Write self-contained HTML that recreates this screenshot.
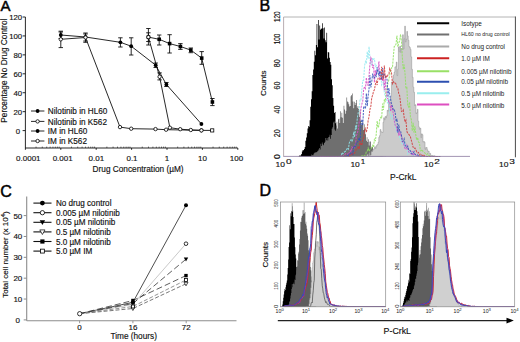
<!DOCTYPE html>
<html><head><meta charset="utf-8"><style>
html,body{margin:0;padding:0;background:#fff;}
svg{display:block;}
text{font-family:'Liberation Sans', sans-serif;stroke:#111;stroke-width:0.15px;paint-order:stroke;}
text.nb{stroke:none;}
</style></head><body>
<svg width="520" height="342" viewBox="0 0 520 342" font-family="'Liberation Sans', sans-serif">
<rect width="520" height="342" fill="#fff"/>
<text x="0.50" y="10.80" font-size="15" text-anchor="start" fill="#000" style="stroke-width:0.5px">A</text>
<line x1="25.40" y1="17.00" x2="25.40" y2="148.00" stroke="#111" stroke-width="0.9" />
<line x1="22.60" y1="130.60" x2="25.40" y2="130.60" stroke="#111" stroke-width="0.9" />
<text x="20.00" y="133.50" font-size="7.8" text-anchor="end" fill="#111" >0</text>
<line x1="22.60" y1="111.67" x2="25.40" y2="111.67" stroke="#111" stroke-width="0.9" />
<text x="22.20" y="114.57" font-size="7.8" text-anchor="end" fill="#111" >20</text>
<line x1="22.60" y1="92.73" x2="25.40" y2="92.73" stroke="#111" stroke-width="0.9" />
<text x="22.20" y="95.63" font-size="7.8" text-anchor="end" fill="#111" >40</text>
<line x1="22.60" y1="73.80" x2="25.40" y2="73.80" stroke="#111" stroke-width="0.9" />
<text x="22.20" y="76.70" font-size="7.8" text-anchor="end" fill="#111" >60</text>
<line x1="22.60" y1="54.86" x2="25.40" y2="54.86" stroke="#111" stroke-width="0.9" />
<text x="22.20" y="57.76" font-size="7.8" text-anchor="end" fill="#111" >80</text>
<line x1="22.60" y1="35.93" x2="25.40" y2="35.93" stroke="#111" stroke-width="0.9" />
<text x="22.20" y="38.83" font-size="7.8" text-anchor="end" fill="#111" >100</text>
<line x1="22.60" y1="17.00" x2="25.40" y2="17.00" stroke="#111" stroke-width="0.9" />
<text x="22.20" y="19.90" font-size="7.8" text-anchor="end" fill="#111" >120</text>
<line x1="25.40" y1="148.00" x2="237.80" y2="148.00" stroke="#111" stroke-width="0.9" />
<line x1="25.40" y1="148.00" x2="25.40" y2="149.80" stroke="#111" stroke-width="0.9" />
<line x1="36.06" y1="148.00" x2="36.06" y2="146.60" stroke="#111" stroke-width="0.6" />
<line x1="42.29" y1="148.00" x2="42.29" y2="146.60" stroke="#111" stroke-width="0.6" />
<line x1="46.71" y1="148.00" x2="46.71" y2="146.60" stroke="#111" stroke-width="0.6" />
<line x1="50.14" y1="148.00" x2="50.14" y2="146.60" stroke="#111" stroke-width="0.6" />
<line x1="52.95" y1="148.00" x2="52.95" y2="146.60" stroke="#111" stroke-width="0.6" />
<line x1="55.32" y1="148.00" x2="55.32" y2="146.60" stroke="#111" stroke-width="0.6" />
<line x1="57.37" y1="148.00" x2="57.37" y2="146.60" stroke="#111" stroke-width="0.6" />
<line x1="59.18" y1="148.00" x2="59.18" y2="146.60" stroke="#111" stroke-width="0.6" />
<line x1="60.80" y1="148.00" x2="60.80" y2="149.80" stroke="#111" stroke-width="0.9" />
<line x1="71.46" y1="148.00" x2="71.46" y2="146.60" stroke="#111" stroke-width="0.6" />
<line x1="77.69" y1="148.00" x2="77.69" y2="146.60" stroke="#111" stroke-width="0.6" />
<line x1="82.11" y1="148.00" x2="82.11" y2="146.60" stroke="#111" stroke-width="0.6" />
<line x1="85.54" y1="148.00" x2="85.54" y2="146.60" stroke="#111" stroke-width="0.6" />
<line x1="88.35" y1="148.00" x2="88.35" y2="146.60" stroke="#111" stroke-width="0.6" />
<line x1="90.72" y1="148.00" x2="90.72" y2="146.60" stroke="#111" stroke-width="0.6" />
<line x1="92.77" y1="148.00" x2="92.77" y2="146.60" stroke="#111" stroke-width="0.6" />
<line x1="94.58" y1="148.00" x2="94.58" y2="146.60" stroke="#111" stroke-width="0.6" />
<line x1="96.20" y1="148.00" x2="96.20" y2="149.80" stroke="#111" stroke-width="0.9" />
<line x1="106.86" y1="148.00" x2="106.86" y2="146.60" stroke="#111" stroke-width="0.6" />
<line x1="113.09" y1="148.00" x2="113.09" y2="146.60" stroke="#111" stroke-width="0.6" />
<line x1="117.51" y1="148.00" x2="117.51" y2="146.60" stroke="#111" stroke-width="0.6" />
<line x1="120.94" y1="148.00" x2="120.94" y2="146.60" stroke="#111" stroke-width="0.6" />
<line x1="123.75" y1="148.00" x2="123.75" y2="146.60" stroke="#111" stroke-width="0.6" />
<line x1="126.12" y1="148.00" x2="126.12" y2="146.60" stroke="#111" stroke-width="0.6" />
<line x1="128.17" y1="148.00" x2="128.17" y2="146.60" stroke="#111" stroke-width="0.6" />
<line x1="129.98" y1="148.00" x2="129.98" y2="146.60" stroke="#111" stroke-width="0.6" />
<line x1="131.60" y1="148.00" x2="131.60" y2="149.80" stroke="#111" stroke-width="0.9" />
<line x1="142.26" y1="148.00" x2="142.26" y2="146.60" stroke="#111" stroke-width="0.6" />
<line x1="148.49" y1="148.00" x2="148.49" y2="146.60" stroke="#111" stroke-width="0.6" />
<line x1="152.91" y1="148.00" x2="152.91" y2="146.60" stroke="#111" stroke-width="0.6" />
<line x1="156.34" y1="148.00" x2="156.34" y2="146.60" stroke="#111" stroke-width="0.6" />
<line x1="159.15" y1="148.00" x2="159.15" y2="146.60" stroke="#111" stroke-width="0.6" />
<line x1="161.52" y1="148.00" x2="161.52" y2="146.60" stroke="#111" stroke-width="0.6" />
<line x1="163.57" y1="148.00" x2="163.57" y2="146.60" stroke="#111" stroke-width="0.6" />
<line x1="165.38" y1="148.00" x2="165.38" y2="146.60" stroke="#111" stroke-width="0.6" />
<line x1="167.00" y1="148.00" x2="167.00" y2="149.80" stroke="#111" stroke-width="0.9" />
<line x1="177.66" y1="148.00" x2="177.66" y2="146.60" stroke="#111" stroke-width="0.6" />
<line x1="183.89" y1="148.00" x2="183.89" y2="146.60" stroke="#111" stroke-width="0.6" />
<line x1="188.31" y1="148.00" x2="188.31" y2="146.60" stroke="#111" stroke-width="0.6" />
<line x1="191.74" y1="148.00" x2="191.74" y2="146.60" stroke="#111" stroke-width="0.6" />
<line x1="194.55" y1="148.00" x2="194.55" y2="146.60" stroke="#111" stroke-width="0.6" />
<line x1="196.92" y1="148.00" x2="196.92" y2="146.60" stroke="#111" stroke-width="0.6" />
<line x1="198.97" y1="148.00" x2="198.97" y2="146.60" stroke="#111" stroke-width="0.6" />
<line x1="200.78" y1="148.00" x2="200.78" y2="146.60" stroke="#111" stroke-width="0.6" />
<line x1="202.40" y1="148.00" x2="202.40" y2="149.80" stroke="#111" stroke-width="0.9" />
<line x1="213.06" y1="148.00" x2="213.06" y2="146.60" stroke="#111" stroke-width="0.6" />
<line x1="219.29" y1="148.00" x2="219.29" y2="146.60" stroke="#111" stroke-width="0.6" />
<line x1="223.71" y1="148.00" x2="223.71" y2="146.60" stroke="#111" stroke-width="0.6" />
<line x1="227.14" y1="148.00" x2="227.14" y2="146.60" stroke="#111" stroke-width="0.6" />
<line x1="229.95" y1="148.00" x2="229.95" y2="146.60" stroke="#111" stroke-width="0.6" />
<line x1="232.32" y1="148.00" x2="232.32" y2="146.60" stroke="#111" stroke-width="0.6" />
<line x1="234.37" y1="148.00" x2="234.37" y2="146.60" stroke="#111" stroke-width="0.6" />
<line x1="236.18" y1="148.00" x2="236.18" y2="146.60" stroke="#111" stroke-width="0.6" />
<line x1="237.80" y1="148.00" x2="237.80" y2="149.80" stroke="#111" stroke-width="0.9" />
<text x="28.30" y="160.60" font-size="8" text-anchor="middle" fill="#111" >0.0001</text>
<text x="62.70" y="160.60" font-size="8" text-anchor="middle" fill="#111" >0.001</text>
<text x="96.40" y="160.60" font-size="8" text-anchor="middle" fill="#111" >0.01</text>
<text x="132.00" y="160.60" font-size="8" text-anchor="middle" fill="#111" >0.1</text>
<text x="167.00" y="160.60" font-size="8" text-anchor="middle" fill="#111" >1</text>
<text x="202.50" y="160.60" font-size="8" text-anchor="middle" fill="#111" >10</text>
<text x="236.50" y="160.60" font-size="8" text-anchor="middle" fill="#111" >100</text>
<text x="138.10" y="171.80" font-size="8.25" text-anchor="middle" fill="#111" >Drug Concentration (µM)</text>
<text transform="translate(6.70,70.60) rotate(-90)" font-size="8.25" text-anchor="middle" fill="#111" >Percentage No Drug Control</text>
<polyline points="60.80,35.00 85.50,37.00 120.40,42.30 131.20,46.20 155.70,65.20 166.40,84.50 201.40,124.00" fill="none" stroke="#111" stroke-width="0.9" />
<polyline points="60.80,39.30 85.50,37.50 120.00,127.10 131.20,128.70 155.50,129.10 166.10,129.70 201.40,130.30" fill="none" stroke="#111" stroke-width="0.9" />
<polyline points="148.40,37.10 159.20,39.30 169.60,43.60 180.40,46.50 190.80,50.10 201.70,58.10 212.40,102.00" fill="none" stroke="#111" stroke-width="0.9" />
<polyline points="148.40,37.10 159.60,76.80 169.90,127.70 180.20,129.20 190.80,130.00 201.40,130.40 212.20,130.40" fill="none" stroke="#111" stroke-width="0.9" />
<line x1="60.80" y1="32.00" x2="60.80" y2="38.50" stroke="#111" stroke-width="0.9" />
<line x1="58.60" y1="32.00" x2="63.00" y2="32.00" stroke="#111" stroke-width="0.9" />
<line x1="58.60" y1="38.50" x2="63.00" y2="38.50" stroke="#111" stroke-width="0.9" />
<line x1="85.50" y1="33.00" x2="85.50" y2="41.00" stroke="#111" stroke-width="0.9" />
<line x1="83.30" y1="33.00" x2="87.70" y2="33.00" stroke="#111" stroke-width="0.9" />
<line x1="83.30" y1="41.00" x2="87.70" y2="41.00" stroke="#111" stroke-width="0.9" />
<line x1="120.40" y1="37.80" x2="120.40" y2="47.00" stroke="#111" stroke-width="0.9" />
<line x1="118.20" y1="37.80" x2="122.60" y2="37.80" stroke="#111" stroke-width="0.9" />
<line x1="118.20" y1="47.00" x2="122.60" y2="47.00" stroke="#111" stroke-width="0.9" />
<line x1="131.20" y1="37.80" x2="131.20" y2="55.00" stroke="#111" stroke-width="0.9" />
<line x1="129.00" y1="37.80" x2="133.40" y2="37.80" stroke="#111" stroke-width="0.9" />
<line x1="129.00" y1="55.00" x2="133.40" y2="55.00" stroke="#111" stroke-width="0.9" />
<line x1="155.70" y1="63.00" x2="155.70" y2="67.50" stroke="#111" stroke-width="0.9" />
<line x1="153.50" y1="63.00" x2="157.90" y2="63.00" stroke="#111" stroke-width="0.9" />
<line x1="153.50" y1="67.50" x2="157.90" y2="67.50" stroke="#111" stroke-width="0.9" />
<line x1="166.40" y1="82.50" x2="166.40" y2="86.50" stroke="#111" stroke-width="0.9" />
<line x1="164.20" y1="82.50" x2="168.60" y2="82.50" stroke="#111" stroke-width="0.9" />
<line x1="164.20" y1="86.50" x2="168.60" y2="86.50" stroke="#111" stroke-width="0.9" />
<line x1="60.80" y1="31.20" x2="60.80" y2="47.60" stroke="#111" stroke-width="0.9" />
<line x1="58.60" y1="31.20" x2="63.00" y2="31.20" stroke="#111" stroke-width="0.9" />
<line x1="58.60" y1="47.60" x2="63.00" y2="47.60" stroke="#111" stroke-width="0.9" />
<line x1="85.50" y1="34.00" x2="85.50" y2="42.30" stroke="#111" stroke-width="0.9" />
<line x1="83.30" y1="34.00" x2="87.70" y2="34.00" stroke="#111" stroke-width="0.9" />
<line x1="83.30" y1="42.30" x2="87.70" y2="42.30" stroke="#111" stroke-width="0.9" />
<line x1="148.40" y1="28.50" x2="148.40" y2="45.00" stroke="#111" stroke-width="0.9" />
<line x1="146.20" y1="28.50" x2="150.60" y2="28.50" stroke="#111" stroke-width="0.9" />
<line x1="146.20" y1="45.00" x2="150.60" y2="45.00" stroke="#111" stroke-width="0.9" />
<line x1="159.20" y1="35.00" x2="159.20" y2="45.00" stroke="#111" stroke-width="0.9" />
<line x1="157.00" y1="35.00" x2="161.40" y2="35.00" stroke="#111" stroke-width="0.9" />
<line x1="157.00" y1="45.00" x2="161.40" y2="45.00" stroke="#111" stroke-width="0.9" />
<line x1="169.60" y1="34.70" x2="169.60" y2="53.00" stroke="#111" stroke-width="0.9" />
<line x1="167.40" y1="34.70" x2="171.80" y2="34.70" stroke="#111" stroke-width="0.9" />
<line x1="167.40" y1="53.00" x2="171.80" y2="53.00" stroke="#111" stroke-width="0.9" />
<line x1="180.40" y1="43.60" x2="180.40" y2="49.40" stroke="#111" stroke-width="0.9" />
<line x1="178.20" y1="43.60" x2="182.60" y2="43.60" stroke="#111" stroke-width="0.9" />
<line x1="178.20" y1="49.40" x2="182.60" y2="49.40" stroke="#111" stroke-width="0.9" />
<line x1="190.80" y1="48.00" x2="190.80" y2="52.70" stroke="#111" stroke-width="0.9" />
<line x1="188.60" y1="48.00" x2="193.00" y2="48.00" stroke="#111" stroke-width="0.9" />
<line x1="188.60" y1="52.70" x2="193.00" y2="52.70" stroke="#111" stroke-width="0.9" />
<line x1="201.70" y1="51.60" x2="201.70" y2="64.30" stroke="#111" stroke-width="0.9" />
<line x1="199.50" y1="51.60" x2="203.90" y2="51.60" stroke="#111" stroke-width="0.9" />
<line x1="199.50" y1="64.30" x2="203.90" y2="64.30" stroke="#111" stroke-width="0.9" />
<line x1="212.40" y1="98.50" x2="212.40" y2="105.60" stroke="#111" stroke-width="0.9" />
<line x1="210.20" y1="98.50" x2="214.60" y2="98.50" stroke="#111" stroke-width="0.9" />
<line x1="210.20" y1="105.60" x2="214.60" y2="105.60" stroke="#111" stroke-width="0.9" />
<line x1="148.40" y1="32.80" x2="148.40" y2="41.50" stroke="#111" stroke-width="0.9" />
<line x1="146.20" y1="32.80" x2="150.60" y2="32.80" stroke="#111" stroke-width="0.9" />
<line x1="146.20" y1="41.50" x2="150.60" y2="41.50" stroke="#111" stroke-width="0.9" />
<line x1="159.60" y1="72.90" x2="159.60" y2="79.90" stroke="#111" stroke-width="0.9" />
<line x1="157.40" y1="72.90" x2="161.80" y2="72.90" stroke="#111" stroke-width="0.9" />
<line x1="157.40" y1="79.90" x2="161.80" y2="79.90" stroke="#111" stroke-width="0.9" />
<rect x="146.60" y="35.30" width="3.6" height="3.6" fill="#000"/>
<rect x="157.40" y="37.50" width="3.6" height="3.6" fill="#000"/>
<rect x="167.80" y="41.80" width="3.6" height="3.6" fill="#000"/>
<rect x="178.60" y="44.70" width="3.6" height="3.6" fill="#000"/>
<rect x="189.00" y="48.30" width="3.6" height="3.6" fill="#000"/>
<rect x="199.90" y="56.30" width="3.6" height="3.6" fill="#000"/>
<rect x="210.60" y="100.20" width="3.6" height="3.6" fill="#000"/>
<circle cx="60.80" cy="35.00" r="1.9" fill="#000"/>
<circle cx="85.50" cy="37.00" r="1.9" fill="#000"/>
<circle cx="120.40" cy="42.30" r="1.9" fill="#000"/>
<circle cx="131.20" cy="46.20" r="1.9" fill="#000"/>
<circle cx="155.70" cy="65.20" r="1.9" fill="#000"/>
<circle cx="166.40" cy="84.50" r="1.9" fill="#000"/>
<circle cx="201.40" cy="124.00" r="1.9" fill="#000"/>
<circle cx="60.80" cy="39.30" r="1.7" fill="#fff" stroke="#000" stroke-width="0.8"/>
<circle cx="85.50" cy="37.50" r="1.7" fill="#fff" stroke="#000" stroke-width="0.8"/>
<circle cx="120.00" cy="127.10" r="1.7" fill="#fff" stroke="#000" stroke-width="0.8"/>
<circle cx="131.20" cy="128.70" r="1.7" fill="#fff" stroke="#000" stroke-width="0.8"/>
<circle cx="155.50" cy="129.10" r="1.7" fill="#fff" stroke="#000" stroke-width="0.8"/>
<circle cx="166.10" cy="129.70" r="1.7" fill="#fff" stroke="#000" stroke-width="0.8"/>
<circle cx="201.40" cy="130.30" r="1.7" fill="#fff" stroke="#000" stroke-width="0.8"/>
<circle cx="148.40" cy="37.10" r="1.7" fill="#fff" stroke="#000" stroke-width="0.8"/>
<circle cx="159.60" cy="76.80" r="1.7" fill="#fff" stroke="#000" stroke-width="0.8"/>
<circle cx="169.90" cy="127.70" r="1.7" fill="#fff" stroke="#000" stroke-width="0.8"/>
<circle cx="180.20" cy="129.20" r="1.7" fill="#fff" stroke="#000" stroke-width="0.8"/>
<circle cx="190.80" cy="130.00" r="1.7" fill="#fff" stroke="#000" stroke-width="0.8"/>
<circle cx="201.40" cy="130.40" r="1.7" fill="#fff" stroke="#000" stroke-width="0.8"/>
<rect x="210.60" y="128.80" width="3.2" height="3.2" fill="#fff" stroke="#000" stroke-width="0.8"/>
<line x1="31.00" y1="111.00" x2="44.40" y2="111.00" stroke="#111" stroke-width="0.9" />
<circle cx="37.60" cy="111.00" r="1.9" fill="#000"/>
<text x="47.80" y="114.20" font-size="8.2" text-anchor="start" fill="#111" >Nilotinib in HL60</text>
<line x1="31.00" y1="121.40" x2="44.40" y2="121.40" stroke="#111" stroke-width="0.9" />
<circle cx="37.60" cy="121.40" r="1.7" fill="#fff" stroke="#000" stroke-width="0.8"/>
<text x="47.80" y="124.60" font-size="8.2" text-anchor="start" fill="#111" >Nilotinib in K562</text>
<line x1="31.00" y1="131.00" x2="44.40" y2="131.00" stroke="#111" stroke-width="0.9" />
<circle cx="37.60" cy="131.00" r="1.9" fill="#000"/>
<text x="47.80" y="134.20" font-size="8.2" text-anchor="start" fill="#111" >IM in HL60</text>
<line x1="31.00" y1="141.00" x2="44.40" y2="141.00" stroke="#111" stroke-width="0.9" />
<circle cx="37.60" cy="141.00" r="1.7" fill="#fff" stroke="#000" stroke-width="0.8"/>
<text x="47.80" y="144.20" font-size="8.2" text-anchor="start" fill="#111" >IM in K562</text>
<text x="0.30" y="196.90" font-size="16" text-anchor="start" fill="#000" style="stroke-width:0.5px">C</text>
<line x1="26.70" y1="196.60" x2="26.70" y2="320.70" stroke="#8c8c8c" stroke-width="1.1" />
<line x1="23.70" y1="319.90" x2="26.70" y2="319.90" stroke="#8c8c8c" stroke-width="1.0" />
<text x="19.90" y="322.80" font-size="8" text-anchor="end" fill="#111" >0</text>
<line x1="23.70" y1="299.04" x2="26.70" y2="299.04" stroke="#8c8c8c" stroke-width="1.0" />
<text x="22.30" y="301.94" font-size="8" text-anchor="end" fill="#111" >10</text>
<line x1="23.70" y1="278.18" x2="26.70" y2="278.18" stroke="#8c8c8c" stroke-width="1.0" />
<text x="22.30" y="281.08" font-size="8" text-anchor="end" fill="#111" >20</text>
<line x1="23.70" y1="257.32" x2="26.70" y2="257.32" stroke="#8c8c8c" stroke-width="1.0" />
<text x="22.30" y="260.22" font-size="8" text-anchor="end" fill="#111" >30</text>
<line x1="23.70" y1="236.46" x2="26.70" y2="236.46" stroke="#8c8c8c" stroke-width="1.0" />
<text x="22.30" y="239.36" font-size="8" text-anchor="end" fill="#111" >40</text>
<line x1="23.70" y1="215.60" x2="26.70" y2="215.60" stroke="#8c8c8c" stroke-width="1.0" />
<text x="22.30" y="218.50" font-size="8" text-anchor="end" fill="#111" >50</text>
<line x1="26.70" y1="320.70" x2="236.50" y2="320.70" stroke="#8c8c8c" stroke-width="1.1" />
<line x1="79.60" y1="320.70" x2="79.60" y2="323.20" stroke="#8c8c8c" stroke-width="0.9" />
<text x="79.60" y="330.20" font-size="8" text-anchor="middle" fill="#111" >0</text>
<line x1="132.90" y1="320.70" x2="132.90" y2="323.20" stroke="#8c8c8c" stroke-width="0.9" />
<text x="132.90" y="330.20" font-size="8" text-anchor="middle" fill="#111" >16</text>
<line x1="186.20" y1="320.70" x2="186.20" y2="323.20" stroke="#8c8c8c" stroke-width="0.9" />
<text x="186.20" y="330.20" font-size="8" text-anchor="middle" fill="#111" >72</text>
<text x="133.70" y="338.80" font-size="8.25" text-anchor="middle" fill="#111" >Time (hours)</text>
<text transform="translate(7.6,297.8) rotate(-90)" font-size="8" fill="#111">Total cell number (x 10<tspan dy="-2.9" font-size="6">4</tspan><tspan dy="2.9">)</tspan></text>
<polyline points="79.70,313.70 132.90,302.30 186.00,205.30" fill="none" stroke="#222" stroke-width="0.8" />
<polyline points="79.70,313.70 132.90,304.50 186.00,243.70" fill="none" stroke="#bbb" stroke-width="0.8" />
<polyline points="79.70,313.70 132.90,303.50 186.00,259.20" fill="none" stroke="#333" stroke-width="0.8" stroke-dasharray="6,3"/>
<polyline points="79.70,313.70 132.90,308.50 186.00,283.80" fill="none" stroke="#555" stroke-width="0.8" stroke-dasharray="4,2"/>
<polyline points="79.70,313.70 132.90,300.50 186.00,275.60" fill="none" stroke="#333" stroke-width="0.8" stroke-dasharray="6,3"/>
<polyline points="79.70,313.70 132.90,306.50 186.00,280.00" fill="none" stroke="#777" stroke-width="0.8" stroke-dasharray="4,2"/>
<circle cx="132.90" cy="302.30" r="2.0" fill="#000"/>
<circle cx="186.00" cy="205.30" r="2.0" fill="#000"/>
<circle cx="132.90" cy="304.50" r="1.8" fill="#fff" stroke="#000" stroke-width="0.8"/>
<circle cx="186.00" cy="243.70" r="1.8" fill="#fff" stroke="#000" stroke-width="0.8"/>
<polygon points="130.70,301.81 135.10,301.81 132.90,305.70" fill="#000"/>
<polygon points="183.80,257.51 188.20,257.51 186.00,261.40" fill="#000"/>
<polygon points="130.90,306.96 134.90,306.96 132.90,310.50" fill="#fff" stroke="#000" stroke-width="0.7"/>
<polygon points="184.00,282.26 188.00,282.26 186.00,285.80" fill="#fff" stroke="#000" stroke-width="0.7"/>
<rect x="131.20" y="298.80" width="3.4" height="3.4" fill="#000"/>
<rect x="184.30" y="273.90" width="3.4" height="3.4" fill="#000"/>
<rect x="131.40" y="305.00" width="3.0" height="3.0" fill="#fff" stroke="#000" stroke-width="0.8"/>
<rect x="184.50" y="278.50" width="3.0" height="3.0" fill="#fff" stroke="#000" stroke-width="0.8"/>
<circle cx="79.70" cy="313.70" r="2.15" fill="#fff" stroke="#000" stroke-width="0.8"/>
<line x1="33.40" y1="203.10" x2="51.50" y2="203.10" stroke="#111" stroke-width="1.1" />
<circle cx="42.40" cy="203.10" r="2.4" fill="#000"/>
<text x="55.90" y="206.10" font-size="8.15" text-anchor="start" fill="#111" >No drug control</text>
<line x1="33.40" y1="212.70" x2="51.50" y2="212.70" stroke="#111" stroke-width="1.1" />
<circle cx="42.40" cy="212.70" r="2.15" fill="#fff" stroke="#000" stroke-width="0.8"/>
<text x="55.90" y="215.70" font-size="8.15" text-anchor="start" fill="#111" >0.005 µM nilotinib</text>
<line x1="33.40" y1="222.30" x2="51.50" y2="222.30" stroke="#111" stroke-width="1.1" />
<polygon points="39.70,220.22 45.10,220.22 42.40,225.00" fill="#000"/>
<text x="55.90" y="225.30" font-size="8.15" text-anchor="start" fill="#111" >0.05 µM nilotinib</text>
<line x1="33.40" y1="231.90" x2="51.50" y2="231.90" stroke="#111" stroke-width="1.1" />
<polygon points="39.80,229.90 45.00,229.90 42.40,234.50" fill="#fff" stroke="#000" stroke-width="0.7"/>
<text x="55.90" y="234.90" font-size="8.15" text-anchor="start" fill="#111" >0.5 µM nilotinib</text>
<line x1="33.40" y1="241.50" x2="51.50" y2="241.50" stroke="#111" stroke-width="1.1" />
<rect x="40.30" y="239.40" width="4.2" height="4.2" fill="#000"/>
<text x="55.90" y="244.50" font-size="8.15" text-anchor="start" fill="#111" >5.0 µM nilotinib</text>
<line x1="33.40" y1="251.10" x2="51.50" y2="251.10" stroke="#111" stroke-width="1.1" />
<rect x="40.45" y="249.15" width="3.9" height="3.9" fill="#fff" stroke="#000" stroke-width="0.8"/>
<text x="55.90" y="254.10" font-size="8.15" text-anchor="start" fill="#111" >5.0 µM IM</text>
<text x="259.60" y="10.80" font-size="16" text-anchor="start" fill="#000" style="stroke-width:0.5px">B</text>
<clipPath id="cb"><rect x="283.6" y="17.0" width="231.79999999999995" height="139.8"/></clipPath>
<g clip-path="url(#cb)">
<path d="M297.00,156.80 L297.00,156.80 L297.70,156.80 L297.70,156.80 L298.40,156.80 L298.40,156.49 L299.10,156.49 L299.10,155.42 L299.80,155.42 L299.80,155.68 L300.50,155.68 L300.50,155.22 L301.20,155.22 L301.20,153.95 L301.90,153.95 L301.90,151.49 L302.60,151.49 L302.60,149.89 L303.30,149.89 L303.30,150.13 L304.00,150.13 L304.00,148.89 L304.70,148.89 L304.70,146.99 L305.40,146.99 L305.40,140.80 L306.10,140.80 L306.10,137.53 L306.80,137.53 L306.80,133.31 L307.50,133.31 L307.50,128.62 L308.20,128.62 L308.20,125.89 L308.90,125.89 L308.90,126.64 L309.60,126.64 L309.60,120.34 L310.30,120.34 L310.30,106.75 L311.00,106.75 L311.00,99.24 L311.70,99.24 L311.70,91.19 L312.40,91.19 L312.40,75.06 L313.10,75.06 L313.10,69.55 L313.80,69.55 L313.80,61.78 L314.50,61.78 L314.50,50.75 L315.20,50.75 L315.20,55.25 L315.90,55.25 L315.90,45.04 L316.60,45.04 L316.60,24.11 L317.30,24.11 L317.30,47.20 L318.00,47.20 L318.00,19.91 L318.70,19.91 L318.70,39.47 L319.40,39.47 L319.40,25.50 L320.10,25.50 L320.10,29.76 L320.80,29.76 L320.80,28.67 L321.50,28.67 L321.50,28.62 L322.20,28.62 L322.20,23.21 L322.90,23.21 L322.90,28.36 L323.60,28.36 L323.60,38.44 L324.30,38.44 L324.30,27.58 L325.00,27.58 L325.00,40.27 L325.70,40.27 L325.70,42.22 L326.40,42.22 L326.40,32.64 L327.10,32.64 L327.10,58.57 L327.80,58.57 L327.80,51.97 L328.50,51.97 L328.50,52.48 L329.20,52.48 L329.20,57.84 L329.90,57.84 L329.90,62.04 L330.60,62.04 L330.60,64.87 L331.30,64.87 L331.30,79.13 L332.00,79.13 L332.00,85.15 L332.70,85.15 L332.70,98.10 L333.40,98.10 L333.40,105.79 L334.10,105.79 L334.10,113.11 L334.80,113.11 L334.80,112.02 L335.50,112.02 L335.50,123.30 L336.20,123.30 L336.20,126.26 L336.90,126.26 L336.90,128.68 L337.60,128.68 L337.60,135.90 L338.30,135.90 L338.30,139.11 L339.00,139.11 L339.00,138.10 L339.70,138.10 L339.70,142.74 L340.40,142.74 L340.40,146.57 L341.10,146.57 L341.10,148.52 L341.80,148.52 L341.80,149.87 L342.50,149.87 L342.50,152.46 L343.20,152.46 L343.20,152.47 L343.90,152.47 L343.90,154.46 L344.60,154.46 L344.60,153.16 L345.30,153.16 L345.30,153.52 L346.00,153.52 L346.00,154.56 L346.70,154.56 L346.70,153.54 L347.40,153.54 L347.40,155.03 L348.10,155.03 L348.10,155.80 L348.80,155.80 L348.80,156.00 L349.50,156.00 L349.50,155.77 L350.20,155.77 L350.20,156.11 L350.90,156.11 L350.90,156.18 L351.60,156.18 L351.60,156.76 L352.30,156.76 L352.30,156.80 L353.00,156.80 L353.00,156.80 L353.70,156.80 L353.70,156.80 L354.40,156.80 L354.00,156.80 Z" fill="#000" stroke="none" stroke-width="0.5" opacity="1"/>
<path d="M303.00,156.80 L303.00,156.80 L303.70,156.80 L303.70,156.80 L304.40,156.80 L304.40,156.80 L305.10,156.80 L305.10,156.80 L305.80,156.80 L305.80,156.80 L306.50,156.80 L306.50,156.80 L307.20,156.80 L307.20,156.80 L307.90,156.80 L307.90,156.80 L308.60,156.80 L308.60,156.80 L309.30,156.80 L309.30,156.70 L310.00,156.70 L310.00,155.99 L310.70,155.99 L310.70,156.80 L311.40,156.80 L311.40,154.40 L312.10,154.40 L312.10,155.36 L312.80,155.36 L312.80,155.16 L313.50,155.16 L313.50,153.83 L314.20,153.83 L314.20,152.67 L314.90,152.67 L314.90,152.71 L315.60,152.71 L315.60,152.11 L316.30,152.11 L316.30,152.31 L317.00,152.31 L317.00,151.49 L317.70,151.49 L317.70,150.87 L318.40,150.87 L318.40,149.55 L319.10,149.55 L319.10,148.11 L319.80,148.11 L319.80,149.41 L320.50,149.41 L320.50,143.74 L321.20,143.74 L321.20,145.95 L321.90,145.95 L321.90,142.42 L322.60,142.42 L322.60,144.20 L323.30,144.20 L323.30,145.36 L324.00,145.36 L324.00,142.88 L324.70,142.88 L324.70,141.69 L325.40,141.69 L325.40,138.04 L326.10,138.04 L326.10,140.14 L326.80,140.14 L326.80,138.06 L327.50,138.06 L327.50,140.50 L328.20,140.50 L328.20,137.23 L328.90,137.23 L328.90,136.73 L329.60,136.73 L329.60,134.85 L330.30,134.85 L330.30,138.77 L331.00,138.77 L331.00,134.91 L331.70,134.91 L331.70,128.69 L332.40,128.69 L332.40,127.21 L333.10,127.21 L333.10,122.46 L333.80,122.46 L333.80,121.40 L334.50,121.40 L334.50,129.50 L335.20,129.50 L335.20,130.68 L335.90,130.68 L335.90,125.41 L336.60,125.41 L336.60,121.86 L337.30,121.86 L337.30,128.70 L338.00,128.70 L338.00,119.34 L338.70,119.34 L338.70,118.82 L339.40,118.82 L339.40,123.10 L340.10,123.10 L340.10,111.23 L340.80,111.23 L340.80,117.22 L341.50,117.22 L341.50,112.79 L342.20,112.79 L342.20,117.66 L342.90,117.66 L342.90,122.93 L343.60,122.93 L343.60,105.70 L344.30,105.70 L344.30,109.40 L345.00,109.40 L345.00,113.66 L345.70,113.66 L345.70,110.68 L346.40,110.68 L346.40,97.53 L347.10,97.53 L347.10,101.54 L347.80,101.54 L347.80,102.33 L348.50,102.33 L348.50,104.32 L349.20,104.32 L349.20,106.54 L349.90,106.54 L349.90,106.10 L350.60,106.10 L350.60,96.35 L351.30,96.35 L351.30,94.89 L352.00,94.89 L352.00,93.50 L352.70,93.50 L352.70,101.61 L353.40,101.61 L353.40,108.24 L354.10,108.24 L354.10,101.63 L354.80,101.63 L354.80,105.03 L355.50,105.03 L355.50,103.03 L356.20,103.03 L356.20,100.11 L356.90,100.11 L356.90,107.81 L357.60,107.81 L357.60,105.95 L358.30,105.95 L358.30,109.11 L359.00,109.11 L359.00,116.89 L359.70,116.89 L359.70,110.33 L360.40,110.33 L360.40,120.41 L361.10,120.41 L361.10,124.86 L361.80,124.86 L361.80,123.48 L362.50,123.48 L362.50,122.01 L363.20,122.01 L363.20,129.99 L363.90,129.99 L363.90,124.35 L364.60,124.35 L364.60,129.37 L365.30,129.37 L365.30,134.31 L366.00,134.31 L366.00,140.75 L366.70,140.75 L366.70,137.23 L367.40,137.23 L367.40,141.89 L368.10,141.89 L368.10,139.37 L368.80,139.37 L368.80,145.44 L369.50,145.44 L369.50,141.60 L370.20,141.60 L370.20,141.49 L370.90,141.49 L370.90,147.89 L371.60,147.89 L371.60,146.84 L372.30,146.84 L372.30,146.94 L373.00,146.94 L373.00,151.17 L373.70,151.17 L373.70,153.27 L374.40,153.27 L374.40,152.14 L375.10,152.14 L375.10,154.65 L375.80,154.65 L375.80,154.85 L376.50,154.85 L376.50,155.09 L377.20,155.09 L377.20,153.83 L377.90,153.83 L377.90,154.57 L378.60,154.57 L378.60,154.77 L379.30,154.77 L379.30,154.32 L380.00,154.32 L380.00,156.04 L380.70,156.04 L380.70,155.70 L381.40,155.70 L381.40,156.04 L382.10,156.04 L382.10,155.77 L382.80,155.77 L382.80,156.58 L383.50,156.58 L383.50,156.23 L384.20,156.23 L384.20,156.40 L384.90,156.40 L384.90,156.05 L385.60,156.05 L385.60,156.75 L386.30,156.75 L386.30,156.80 L387.00,156.80 L387.00,156.80 L387.70,156.80 L387.70,156.80 L388.40,156.80 L388.00,156.80 Z" fill="#6f6f6f" stroke="none" stroke-width="0.5" opacity="1"/>
<path d="M362.00,156.80 L362.00,156.80 L362.70,156.80 L362.70,156.80 L363.40,156.80 L363.40,156.80 L364.10,156.80 L364.10,156.78 L364.80,156.78 L364.80,156.11 L365.50,156.11 L365.50,156.49 L366.20,156.49 L366.20,155.67 L366.90,155.67 L366.90,154.23 L367.60,154.23 L367.60,154.47 L368.30,154.47 L368.30,155.96 L369.00,155.96 L369.00,152.71 L369.70,152.71 L369.70,155.24 L370.40,155.24 L370.40,154.92 L371.10,154.92 L371.10,151.61 L371.80,151.61 L371.80,151.50 L372.50,151.50 L372.50,150.33 L373.20,150.33 L373.20,149.55 L373.90,149.55 L373.90,148.63 L374.60,148.63 L374.60,146.81 L375.30,146.81 L375.30,148.48 L376.00,148.48 L376.00,146.14 L376.70,146.14 L376.70,145.04 L377.40,145.04 L377.40,144.47 L378.10,144.47 L378.10,142.29 L378.80,142.29 L378.80,137.28 L379.50,137.28 L379.50,135.65 L380.20,135.65 L380.20,129.54 L380.90,129.54 L380.90,131.78 L381.60,131.78 L381.60,132.15 L382.30,132.15 L382.30,132.49 L383.00,132.49 L383.00,122.28 L383.70,122.28 L383.70,117.84 L384.40,117.84 L384.40,119.81 L385.10,119.81 L385.10,116.48 L385.80,116.48 L385.80,117.81 L386.50,117.81 L386.50,115.80 L387.20,115.80 L387.20,110.31 L387.90,110.31 L387.90,111.08 L388.60,111.08 L388.60,99.39 L389.30,99.39 L389.30,106.57 L390.00,106.57 L390.00,106.74 L390.70,106.74 L390.70,96.42 L391.40,96.42 L391.40,81.96 L392.10,81.96 L392.10,82.62 L392.80,82.62 L392.80,78.26 L393.50,78.26 L393.50,74.90 L394.20,74.90 L394.20,72.03 L394.90,72.03 L394.90,66.91 L395.60,66.91 L395.60,66.74 L396.30,66.74 L396.30,62.12 L397.00,62.12 L397.00,75.58 L397.70,75.58 L397.70,69.15 L398.40,69.15 L398.40,46.95 L399.10,46.95 L399.10,51.76 L399.80,51.76 L399.80,46.08 L400.50,46.08 L400.50,52.36 L401.20,52.36 L401.20,48.54 L401.90,48.54 L401.90,49.60 L402.60,49.60 L402.60,34.75 L403.30,34.75 L403.30,49.09 L404.00,49.09 L404.00,38.72 L404.70,38.72 L404.70,26.13 L405.40,26.13 L405.40,41.86 L406.10,41.86 L406.10,39.11 L406.80,39.11 L406.80,31.40 L407.50,31.40 L407.50,35.91 L408.20,35.91 L408.20,40.28 L408.90,40.28 L408.90,46.56 L409.60,46.56 L409.60,47.57 L410.30,47.57 L410.30,49.38 L411.00,49.38 L411.00,56.92 L411.70,56.92 L411.70,69.28 L412.40,69.28 L412.40,77.29 L413.10,77.29 L413.10,87.17 L413.80,87.17 L413.80,92.29 L414.50,92.29 L414.50,105.54 L415.20,105.54 L415.20,104.71 L415.90,104.71 L415.90,113.51 L416.60,113.51 L416.60,112.76 L417.30,112.76 L417.30,109.35 L418.00,109.35 L418.00,121.22 L418.70,121.22 L418.70,126.92 L419.40,126.92 L419.40,129.24 L420.10,129.24 L420.10,128.19 L420.80,128.19 L420.80,137.55 L421.50,137.55 L421.50,133.87 L422.20,133.87 L422.20,134.73 L422.90,134.73 L422.90,142.15 L423.60,142.15 L423.60,141.53 L424.30,141.53 L424.30,142.20 L425.00,142.20 L425.00,149.34 L425.70,149.34 L425.70,147.59 L426.40,147.59 L426.40,147.48 L427.10,147.48 L427.10,149.85 L427.80,149.85 L427.80,151.70 L428.50,151.70 L428.50,151.34 L429.20,151.34 L429.20,153.88 L429.90,153.88 L429.90,153.42 L430.60,153.42 L430.60,155.39 L431.30,155.39 L431.30,155.55 L432.00,155.55 L432.00,155.47 L432.70,155.47 L432.70,155.68 L433.40,155.68 L433.40,156.68 L434.10,156.68 L434.10,155.81 L434.80,155.81 L434.80,156.26 L435.50,156.26 L435.50,156.68 L436.20,156.68 L436.20,156.80 L436.90,156.80 L436.90,156.80 L437.60,156.80 L437.60,156.80 L438.30,156.80 L438.30,156.80 L439.00,156.80 L439.00,156.80 L439.70,156.80 L439.70,156.80 L440.40,156.80 L440.00,156.80 Z" fill="#cbcbcb" stroke="#8e8e8e" stroke-width="0.5" opacity="1"/>
<path d="M320.45,156.80 L321.35,156.80 L322.25,156.80 L323.15,156.80 L324.05,156.80 L324.95,156.80 L325.85,156.80 L326.75,156.80 L327.65,156.80 L328.55,156.80 L329.45,156.80 L330.35,156.80 L331.25,156.80 L332.15,156.80 L333.05,156.80 L333.95,156.80 L334.85,156.80 L335.75,156.80 L336.65,156.80 L337.55,156.80 L338.45,156.80 L339.35,156.80 L340.25,156.80 L341.15,156.80 L342.05,156.80 L342.95,156.80 L343.85,156.80 L344.75,156.80 L345.65,156.80 L346.55,156.80 L347.45,156.80 L348.35,156.80 L349.25,156.80 L350.15,156.80 L351.05,156.80 L351.95,156.80 L352.85,156.80 L353.75,156.80 L354.65,156.80 L355.55,156.80 L356.45,156.80 L357.35,156.80 L358.25,156.80 L359.15,156.80 L360.05,156.80 L360.95,156.80 L361.85,155.78 L362.75,156.37 L363.65,154.99 L364.55,155.53 L365.45,155.19 L366.35,151.67 L367.25,151.31 L368.15,148.18 L369.05,151.19 L369.95,149.75 L370.85,148.78 L371.75,147.67 L372.65,145.45 L373.55,147.44 L374.45,138.70 L375.35,141.08 L376.25,134.02 L377.15,120.85 L378.05,127.82 L378.95,125.45 L379.85,118.80 L380.75,117.43 L381.65,118.36 L382.55,103.61 L383.45,109.89 L384.35,99.46 L385.25,102.09 L386.15,89.29 L387.05,87.97 L387.95,82.81 L388.85,79.77 L389.75,74.78 L390.65,70.48 L391.55,67.76 L392.45,67.73 L393.35,56.40 L394.25,46.35 L395.15,46.17 L396.05,43.95 L396.95,35.45 L397.85,46.83 L398.75,42.88 L399.65,40.82 L400.55,34.33 L401.45,40.96 L402.35,57.32 L403.25,69.42 L404.15,64.52 L405.05,73.69 L405.95,88.29 L406.85,87.64 L407.75,106.03 L408.65,107.06 L409.55,101.97 L410.45,117.54 L411.35,119.45 L412.25,130.86 L413.15,122.90 L414.05,132.61 L414.95,126.18 L415.85,135.28 L416.75,140.12 L417.65,137.53 L418.55,142.16 L419.45,142.76 L420.35,150.79 L421.25,150.53 L422.15,149.57 L423.05,151.76 L423.95,152.56 L424.85,152.83 L425.75,154.30 L426.65,154.75 L427.55,153.70 L428.45,155.38 L429.35,155.48 L430.25,155.83 L431.15,156.62 L432.05,156.80 L432.95,156.80 L433.85,156.80 L434.75,156.80 L435.65,156.80 L436.55,156.80 L437.45,156.80 L438.35,156.80 L439.25,156.80 L440.15,156.80" fill="none" stroke="#8fe060" stroke-width="1.05" opacity="0.85" stroke-linejoin="miter" stroke-dasharray="2.2,1.0"/>
<path d="M320.45,156.80 L321.35,156.80 L322.25,156.80 L323.15,156.80 L324.05,156.80 L324.95,156.80 L325.85,156.80 L326.75,156.80 L327.65,156.80 L328.55,156.80 L329.45,156.80 L330.35,156.80 L331.25,156.80 L332.15,156.80 L333.05,156.80 L333.95,156.80 L334.85,156.80 L335.75,156.80 L336.65,156.80 L337.55,156.80 L338.45,156.80 L339.35,156.56 L340.25,156.62 L341.15,156.80 L342.05,152.46 L342.95,153.85 L343.85,152.33 L344.75,151.76 L345.65,151.02 L346.55,149.94 L347.45,147.84 L348.35,149.15 L349.25,143.04 L350.15,140.68 L351.05,139.70 L351.95,141.32 L352.85,139.39 L353.75,131.76 L354.65,137.08 L355.55,126.42 L356.45,128.07 L357.35,117.78 L358.25,112.63 L359.15,110.68 L360.05,99.35 L360.95,99.71 L361.85,89.47 L362.75,80.75 L363.65,80.42 L364.55,65.78 L365.45,61.58 L366.35,63.66 L367.25,51.64 L368.15,58.73 L369.05,46.65 L369.95,58.34 L370.85,63.99 L371.75,64.84 L372.65,57.84 L373.55,59.42 L374.45,58.98 L375.35,66.50 L376.25,65.56 L377.15,69.33 L378.05,72.98 L378.95,68.50 L379.85,76.27 L380.75,73.16 L381.65,84.90 L382.55,83.30 L383.45,82.04 L384.35,92.62 L385.25,96.37 L386.15,96.65 L387.05,102.08 L387.95,103.27 L388.85,96.80 L389.75,112.53 L390.65,116.24 L391.55,118.51 L392.45,115.68 L393.35,118.25 L394.25,120.33 L395.15,124.15 L396.05,129.99 L396.95,131.76 L397.85,130.22 L398.75,133.78 L399.65,137.48 L400.55,140.08 L401.45,140.69 L402.35,144.64 L403.25,142.10 L404.15,146.60 L405.05,142.38 L405.95,147.68 L406.85,148.10 L407.75,153.65 L408.65,151.52 L409.55,152.61 L410.45,154.02 L411.35,152.59 L412.25,154.39 L413.15,155.13 L414.05,155.17 L414.95,155.98 L415.85,155.55 L416.75,155.79 L417.65,156.26 L418.55,156.07 L419.45,156.10 L420.35,156.75 L421.25,156.80 L422.15,156.80 L423.05,156.80 L423.95,156.80 L424.85,156.80 L425.75,156.80 L426.65,156.80 L427.55,156.80 L428.45,156.80 L429.35,156.80 L430.25,156.80 L431.15,156.80 L432.05,156.80 L432.95,156.80 L433.85,156.80 L434.75,156.80 L435.65,156.80 L436.55,156.80 L437.45,156.80 L438.35,156.80 L439.25,156.80 L440.15,156.80" fill="none" stroke="#90e8f0" stroke-width="1.05" opacity="0.85" stroke-linejoin="miter" stroke-dasharray="2.2,1.0"/>
<path d="M320.45,156.80 L321.35,156.80 L322.25,156.80 L323.15,156.80 L324.05,156.80 L324.95,156.80 L325.85,156.80 L326.75,156.80 L327.65,156.80 L328.55,156.80 L329.45,156.80 L330.35,156.80 L331.25,156.80 L332.15,156.80 L333.05,156.80 L333.95,156.80 L334.85,156.80 L335.75,156.80 L336.65,156.80 L337.55,156.80 L338.45,156.80 L339.35,156.80 L340.25,156.80 L341.15,155.78 L342.05,156.65 L342.95,156.25 L343.85,155.73 L344.75,154.60 L345.65,153.62 L346.55,153.72 L347.45,153.67 L348.35,155.14 L349.25,152.37 L350.15,150.59 L351.05,151.82 L351.95,146.94 L352.85,147.63 L353.75,148.65 L354.65,145.58 L355.55,143.97 L356.45,135.41 L357.35,133.23 L358.25,129.57 L359.15,122.34 L360.05,119.38 L360.95,107.86 L361.85,104.04 L362.75,101.03 L363.65,89.34 L364.55,86.64 L365.45,88.49 L366.35,77.58 L367.25,84.67 L368.15,85.35 L369.05,75.70 L369.95,64.06 L370.85,57.68 L371.75,59.91 L372.65,67.85 L373.55,65.02 L374.45,82.57 L375.35,70.15 L376.25,75.47 L377.15,70.50 L378.05,70.28 L378.95,61.20 L379.85,79.77 L380.75,79.02 L381.65,78.49 L382.55,80.12 L383.45,76.74 L384.35,90.10 L385.25,78.51 L386.15,92.30 L387.05,98.06 L387.95,98.87 L388.85,102.39 L389.75,102.25 L390.65,111.50 L391.55,104.81 L392.45,108.93 L393.35,113.87 L394.25,120.63 L395.15,125.22 L396.05,125.62 L396.95,130.25 L397.85,128.75 L398.75,135.72 L399.65,131.20 L400.55,136.03 L401.45,135.44 L402.35,141.82 L403.25,142.41 L404.15,145.69 L405.05,148.81 L405.95,149.07 L406.85,145.40 L407.75,148.49 L408.65,151.89 L409.55,152.35 L410.45,152.97 L411.35,154.12 L412.25,151.19 L413.15,155.71 L414.05,153.81 L414.95,155.07 L415.85,154.95 L416.75,156.04 L417.65,155.67 L418.55,156.80 L419.45,156.80 L420.35,156.80 L421.25,156.80 L422.15,156.80 L423.05,156.80 L423.95,156.80 L424.85,156.80 L425.75,156.80 L426.65,156.80 L427.55,156.80 L428.45,156.80 L429.35,156.80 L430.25,156.80 L431.15,156.80 L432.05,156.80 L432.95,156.80 L433.85,156.80 L434.75,156.80 L435.65,156.80 L436.55,156.80 L437.45,156.80 L438.35,156.80 L439.25,156.80 L440.15,156.80" fill="none" stroke="#d44cc4" stroke-width="1.05" opacity="0.85" stroke-linejoin="miter" stroke-dasharray="2.2,1.0"/>
<path d="M320.45,156.80 L321.35,156.80 L322.25,156.80 L323.15,156.80 L324.05,156.80 L324.95,156.80 L325.85,156.80 L326.75,156.80 L327.65,156.80 L328.55,156.80 L329.45,156.80 L330.35,156.80 L331.25,156.80 L332.15,156.80 L333.05,156.80 L333.95,156.80 L334.85,156.80 L335.75,156.80 L336.65,156.80 L337.55,156.80 L338.45,156.80 L339.35,156.80 L340.25,156.80 L341.15,156.80 L342.05,156.80 L342.95,156.80 L343.85,156.80 L344.75,156.80 L345.65,156.80 L346.55,156.19 L347.45,155.36 L348.35,156.15 L349.25,153.35 L350.15,153.49 L351.05,154.07 L351.95,152.48 L352.85,155.37 L353.75,145.97 L354.65,146.69 L355.55,146.31 L356.45,142.15 L357.35,142.09 L358.25,141.08 L359.15,137.62 L360.05,141.26 L360.95,125.13 L361.85,119.40 L362.75,125.56 L363.65,106.94 L364.55,106.23 L365.45,108.98 L366.35,93.46 L367.25,106.16 L368.15,95.72 L369.05,88.77 L369.95,75.31 L370.85,87.46 L371.75,81.73 L372.65,73.61 L373.55,78.13 L374.45,77.75 L375.35,75.46 L376.25,76.42 L377.15,67.37 L378.05,72.46 L378.95,76.43 L379.85,71.07 L380.75,72.88 L381.65,79.80 L382.55,67.93 L383.45,77.58 L384.35,74.45 L385.25,75.70 L386.15,78.04 L387.05,79.34 L387.95,97.17 L388.85,88.13 L389.75,94.40 L390.65,99.50 L391.55,104.39 L392.45,106.38 L393.35,110.30 L394.25,109.91 L395.15,112.15 L396.05,121.39 L396.95,118.65 L397.85,132.69 L398.75,124.48 L399.65,130.79 L400.55,130.86 L401.45,135.33 L402.35,141.19 L403.25,141.29 L404.15,138.92 L405.05,145.02 L405.95,146.54 L406.85,147.34 L407.75,146.24 L408.65,149.95 L409.55,150.06 L410.45,150.82 L411.35,153.43 L412.25,153.95 L413.15,153.42 L414.05,151.68 L414.95,154.31 L415.85,154.54 L416.75,154.65 L417.65,154.98 L418.55,155.78 L419.45,155.87 L420.35,156.32 L421.25,156.14 L422.15,156.70 L423.05,156.80 L423.95,156.80 L424.85,156.80 L425.75,156.80 L426.65,156.80 L427.55,156.80 L428.45,156.80 L429.35,156.80 L430.25,156.80 L431.15,156.80 L432.05,156.80 L432.95,156.80 L433.85,156.80 L434.75,156.80 L435.65,156.80 L436.55,156.80 L437.45,156.80 L438.35,156.80 L439.25,156.80 L440.15,156.80" fill="none" stroke="#3450b8" stroke-width="1.05" opacity="0.85" stroke-linejoin="miter" stroke-dasharray="2.2,1.0"/>
<path d="M320.45,156.80 L321.35,156.80 L322.25,156.80 L323.15,156.80 L324.05,156.80 L324.95,156.80 L325.85,156.80 L326.75,156.80 L327.65,156.80 L328.55,156.80 L329.45,156.80 L330.35,156.80 L331.25,156.80 L332.15,156.80 L333.05,156.80 L333.95,156.80 L334.85,156.80 L335.75,156.80 L336.65,156.80 L337.55,156.80 L338.45,156.80 L339.35,156.80 L340.25,156.80 L341.15,156.80 L342.05,156.80 L342.95,156.80 L343.85,156.80 L344.75,156.80 L345.65,156.80 L346.55,156.80 L347.45,156.80 L348.35,156.80 L349.25,156.30 L350.15,154.71 L351.05,154.84 L351.95,153.86 L352.85,153.92 L353.75,153.85 L354.65,153.02 L355.55,150.63 L356.45,149.27 L357.35,148.84 L358.25,146.26 L359.15,149.26 L360.05,140.94 L360.95,144.19 L361.85,145.35 L362.75,139.07 L363.65,138.14 L364.55,130.80 L365.45,127.63 L366.35,132.08 L367.25,128.15 L368.15,120.56 L369.05,116.58 L369.95,109.24 L370.85,106.25 L371.75,97.62 L372.65,95.22 L373.55,91.15 L374.45,89.88 L375.35,84.42 L376.25,81.44 L377.15,85.02 L378.05,78.19 L378.95,78.13 L379.85,79.33 L380.75,78.17 L381.65,66.82 L382.55,79.16 L383.45,78.32 L384.35,65.50 L385.25,78.15 L386.15,75.97 L387.05,77.23 L387.95,74.89 L388.85,74.33 L389.75,68.53 L390.65,70.29 L391.55,72.86 L392.45,83.66 L393.35,81.80 L394.25,82.90 L395.15,82.50 L396.05,84.21 L396.95,87.29 L397.85,88.30 L398.75,93.68 L399.65,95.56 L400.55,102.98 L401.45,111.37 L402.35,110.95 L403.25,109.84 L404.15,117.31 L405.05,122.07 L405.95,120.24 L406.85,131.30 L407.75,133.51 L408.65,134.12 L409.55,135.35 L410.45,137.00 L411.35,140.32 L412.25,143.93 L413.15,147.23 L414.05,148.55 L414.95,148.04 L415.85,149.78 L416.75,151.83 L417.65,152.77 L418.55,152.39 L419.45,155.10 L420.35,154.12 L421.25,154.26 L422.15,155.29 L423.05,156.40 L423.95,155.36 L424.85,156.35 L425.75,156.80 L426.65,156.80 L427.55,156.80 L428.45,156.80 L429.35,156.80 L430.25,156.80 L431.15,156.80 L432.05,156.80 L432.95,156.80 L433.85,156.80 L434.75,156.80 L435.65,156.80 L436.55,156.80 L437.45,156.80 L438.35,156.80 L439.25,156.80 L440.15,156.80" fill="none" stroke="#d03838" stroke-width="1.05" opacity="0.85" stroke-linejoin="miter" stroke-dasharray="2.2,1.0"/>
</g>
<line x1="283.60" y1="156.40" x2="470.00" y2="156.40" stroke="#8a7aa0" stroke-width="0.8" />
<line x1="283.60" y1="17.00" x2="515.40" y2="17.00" stroke="#b4b4b4" stroke-width="1.0" />
<line x1="283.60" y1="17.00" x2="283.60" y2="156.80" stroke="#b0a4aa" stroke-width="0.9" />
<line x1="515.40" y1="16.50" x2="515.40" y2="157.30" stroke="#4a4a4a" stroke-width="1.0" />
<text transform="translate(280.40,16.80) rotate(-90)" font-size="8.6" text-anchor="middle" fill="#111" textLength="10.6" lengthAdjust="spacingAndGlyphs">120</text>
<text transform="translate(280.40,39.00) rotate(-90)" font-size="8.6" text-anchor="middle" fill="#111" textLength="10.6" lengthAdjust="spacingAndGlyphs">100</text>
<text transform="translate(280.40,63.20) rotate(-90)" font-size="8.6" text-anchor="middle" fill="#111" textLength="7.9" lengthAdjust="spacingAndGlyphs">80</text>
<text transform="translate(280.40,85.60) rotate(-90)" font-size="8.6" text-anchor="middle" fill="#111" textLength="7.9" lengthAdjust="spacingAndGlyphs">60</text>
<text transform="translate(280.40,109.50) rotate(-90)" font-size="8.6" text-anchor="middle" fill="#111" textLength="7.9" lengthAdjust="spacingAndGlyphs">40</text>
<text transform="translate(280.40,133.20) rotate(-90)" font-size="8.6" text-anchor="middle" fill="#111" textLength="7.9" lengthAdjust="spacingAndGlyphs">20</text>
<text transform="translate(280.40,156.60) rotate(-90)" font-size="8.6" text-anchor="middle" fill="#111" >0</text>
<text transform="translate(266.30,83.30) rotate(-90)" font-size="8" text-anchor="middle" fill="#111" >Counts</text>
<text x="275.60" y="166.90" font-size="8.0" fill="#111" textLength="9.4" lengthAdjust="spacingAndGlyphs">10</text>
<text x="285.90" y="163.80" font-size="8.0" fill="#111" textLength="5.6" lengthAdjust="spacingAndGlyphs">0</text>
<text x="350.40" y="166.90" font-size="8.0" fill="#111" textLength="9.4" lengthAdjust="spacingAndGlyphs">10</text>
<text x="360.70" y="163.80" font-size="8.0" fill="#111" >1</text>
<text x="424.00" y="166.90" font-size="8.0" fill="#111" textLength="9.4" lengthAdjust="spacingAndGlyphs">10</text>
<text x="434.30" y="163.80" font-size="8.0" fill="#111" textLength="5.6" lengthAdjust="spacingAndGlyphs">2</text>
<text x="499.00" y="166.90" font-size="8.0" fill="#111" textLength="9.4" lengthAdjust="spacingAndGlyphs">10</text>
<text x="509.30" y="163.80" font-size="8.0" fill="#111" textLength="5.6" lengthAdjust="spacingAndGlyphs">3</text>
<text x="403.20" y="180.10" font-size="8.5" text-anchor="middle" fill="#111" >P-CrkL</text>
<line x1="417.00" y1="23.30" x2="449.20" y2="23.30" stroke="#000" stroke-width="2.0" />
<text x="461.30" y="25.60" font-size="6.4" text-anchor="start" fill="#222" class="nb">Isotype</text>
<line x1="417.00" y1="34.50" x2="449.20" y2="34.50" stroke="#707070" stroke-width="2.0" />
<text x="461.30" y="36.37" font-size="5.2" text-anchor="start" fill="#222" class="nb">HL60 no drug control</text>
<line x1="417.00" y1="46.50" x2="449.20" y2="46.50" stroke="#aaaaaa" stroke-width="2.0" />
<text x="461.30" y="48.80" font-size="6.4" text-anchor="start" fill="#222" class="nb">No drug control</text>
<line x1="417.00" y1="58.30" x2="449.20" y2="58.30" stroke="#cc2222" stroke-width="2.0" />
<text x="461.30" y="60.60" font-size="6.4" text-anchor="start" fill="#222" class="nb">1.0 µM IM</text>
<line x1="417.00" y1="71.20" x2="449.20" y2="71.20" stroke="#99e066" stroke-width="2.0" />
<text x="461.30" y="73.50" font-size="6.4" text-anchor="start" fill="#222" class="nb">0.005 µM nilotinib</text>
<line x1="417.00" y1="81.80" x2="449.20" y2="81.80" stroke="#2d4fb0" stroke-width="2.0" />
<text x="461.30" y="84.10" font-size="6.4" text-anchor="start" fill="#222" class="nb">0.05 µM nilotinib</text>
<line x1="417.00" y1="93.30" x2="449.20" y2="93.30" stroke="#99eeee" stroke-width="2.0" />
<text x="461.30" y="95.60" font-size="6.4" text-anchor="start" fill="#222" class="nb">0.5 µM nilotinib</text>
<line x1="417.00" y1="104.40" x2="449.20" y2="104.40" stroke="#dd4ec0" stroke-width="2.0" />
<text x="461.30" y="108.20" font-size="6.4" text-anchor="start" fill="#222" class="nb">5.0 µM nilotinib</text>
<text x="259.60" y="196.10" font-size="16" text-anchor="start" fill="#000" style="stroke-width:0.5px">D</text>
<clipPath id="cdl"><rect x="280.5" y="202.0" width="105.19999999999999" height="104.80000000000001"/></clipPath>
<g clip-path="url(#cdl)">
<path d="M280.50,306.80 L280.50,306.80 L280.95,306.80 L280.95,306.80 L281.40,306.80 L281.40,306.80 L281.85,306.80 L281.85,306.80 L282.30,306.80 L282.30,304.42 L282.75,304.42 L282.75,301.37 L283.20,301.37 L283.20,297.87 L283.65,297.87 L283.65,294.52 L284.10,294.52 L284.10,291.19 L284.55,291.19 L284.55,288.95 L285.00,288.95 L285.00,290.12 L285.45,290.12 L285.45,287.32 L285.90,287.32 L285.90,284.78 L286.35,284.78 L286.35,282.84 L286.80,282.84 L286.80,280.56 L287.25,280.56 L287.25,274.52 L287.70,274.52 L287.70,268.11 L288.15,268.11 L288.15,259.56 L288.60,259.56 L288.60,247.12 L289.05,247.12 L289.05,242.54 L289.50,242.54 L289.50,225.37 L289.95,225.37 L289.95,229.23 L290.40,229.23 L290.40,213.33 L290.85,213.33 L290.85,216.27 L291.30,216.27 L291.30,211.31 L291.75,211.31 L291.75,210.90 L292.20,210.90 L292.20,206.28 L292.65,206.28 L292.65,210.62 L293.10,210.62 L293.10,217.05 L293.55,217.05 L293.55,224.04 L294.00,224.04 L294.00,224.02 L294.45,224.02 L294.45,237.43 L294.90,237.43 L294.90,247.21 L295.35,247.21 L295.35,254.55 L295.80,254.55 L295.80,258.48 L296.25,258.48 L296.25,267.04 L296.70,267.04 L296.70,277.89 L297.15,277.89 L297.15,283.79 L297.60,283.79 L297.60,288.64 L298.05,288.64 L298.05,292.51 L298.50,292.51 L298.50,297.14 L298.95,297.14 L298.95,297.95 L299.40,297.95 L299.40,297.43 L299.85,297.43 L299.85,298.63 L300.30,298.63 L300.30,301.14 L300.75,301.14 L300.75,300.16 L301.20,300.16 L301.20,302.92 L301.65,302.92 L301.65,302.32 L302.10,302.32 L302.10,303.54 L302.55,303.54 L302.55,303.87 L303.00,303.87 L303.00,303.26 L303.45,303.26 L303.45,303.66 L303.90,303.66 L303.90,304.66 L304.35,304.66 L304.35,305.44 L304.80,305.44 L304.80,305.63 L305.25,305.63 L305.25,306.02 L305.70,306.02 L305.70,306.48 L306.15,306.48 L306.15,306.80 L306.60,306.80 L306.60,306.80 L307.05,306.80 L307.05,306.80 L307.50,306.80 L307.50,306.80 L307.95,306.80 L307.95,306.80 L308.40,306.80 L308.40,306.80 L308.85,306.80 L308.85,306.80 L309.30,306.80 L309.30,306.80 L309.75,306.80 L309.75,306.80 L310.20,306.80 L310.20,306.80 L310.65,306.80 L310.65,306.80 L311.10,306.80 L311.10,306.80 L311.55,306.80 L311.55,306.80 L312.00,306.80 L312.00,306.80 L312.45,306.80 L312.45,306.80 L312.90,306.80 L312.90,306.80 L313.35,306.80 L313.35,306.80 L313.80,306.80 L313.80,306.80 L314.25,306.80 L314.25,306.80 L314.70,306.80 L314.70,306.80 L315.15,306.80 L315.15,306.80 L315.60,306.80 L315.60,306.80 L316.05,306.80 L316.05,306.80 L316.50,306.80 L316.50,306.80 L316.95,306.80 L316.95,306.80 L317.40,306.80 L317.40,306.80 L317.85,306.80 L317.85,306.80 L318.30,306.80 L318.30,306.80 L318.75,306.80 L318.75,306.80 L319.20,306.80 L319.20,306.80 L319.65,306.80 L319.65,306.80 L320.10,306.80 L320.10,306.80 L320.55,306.80 L320.50,306.80 Z" fill="#000" stroke="none" stroke-width="0.5" opacity="1"/>
<path d="M281.50,306.80 L281.50,306.80 L281.95,306.80 L281.95,306.80 L282.40,306.80 L282.40,306.80 L282.85,306.80 L282.85,306.80 L283.30,306.80 L283.30,306.80 L283.75,306.80 L283.75,306.80 L284.20,306.80 L284.20,306.80 L284.65,306.80 L284.65,306.80 L285.10,306.80 L285.10,306.80 L285.55,306.80 L285.55,306.80 L286.00,306.80 L286.00,306.80 L286.45,306.80 L286.45,306.80 L286.90,306.80 L286.90,306.80 L287.35,306.80 L287.35,306.80 L287.80,306.80 L287.80,306.80 L288.25,306.80 L288.25,305.87 L288.70,305.87 L288.70,304.26 L289.15,304.26 L289.15,301.84 L289.60,301.84 L289.60,301.35 L290.05,301.35 L290.05,298.53 L290.50,298.53 L290.50,295.57 L290.95,295.57 L290.95,293.11 L291.40,293.11 L291.40,288.99 L291.85,288.99 L291.85,283.94 L292.30,283.94 L292.30,287.17 L292.75,287.17 L292.75,284.10 L293.20,284.10 L293.20,283.70 L293.65,283.70 L293.65,282.39 L294.10,282.39 L294.10,284.26 L294.55,284.26 L294.55,279.48 L295.00,279.48 L295.00,280.08 L295.45,280.08 L295.45,275.34 L295.90,275.34 L295.90,273.86 L296.35,273.86 L296.35,270.48 L296.80,270.48 L296.80,266.41 L297.25,266.41 L297.25,260.00 L297.70,260.00 L297.70,260.74 L298.15,260.74 L298.15,253.61 L298.60,253.61 L298.60,251.73 L299.05,251.73 L299.05,244.40 L299.50,244.40 L299.50,239.02 L299.95,239.02 L299.95,230.54 L300.40,230.54 L300.40,221.87 L300.85,221.87 L300.85,221.93 L301.30,221.93 L301.30,217.65 L301.75,217.65 L301.75,216.09 L302.20,216.09 L302.20,215.49 L302.65,215.49 L302.65,210.16 L303.10,210.16 L303.10,209.89 L303.55,209.89 L303.55,213.85 L304.00,213.85 L304.00,212.26 L304.45,212.26 L304.45,213.49 L304.90,213.49 L304.90,212.11 L305.35,212.11 L305.35,223.83 L305.80,223.83 L305.80,221.63 L306.25,221.63 L306.25,225.49 L306.70,225.49 L306.70,228.78 L307.15,228.78 L307.15,233.46 L307.60,233.46 L307.60,235.74 L308.05,235.74 L308.05,240.27 L308.50,240.27 L308.50,250.36 L308.95,250.36 L308.95,253.00 L309.40,253.00 L309.40,253.18 L309.85,253.18 L309.85,258.04 L310.30,258.04 L310.30,267.02 L310.75,267.02 L310.75,270.36 L311.20,270.36 L311.20,276.43 L311.65,276.43 L311.65,280.51 L312.10,280.51 L312.10,287.85 L312.55,287.85 L312.55,293.33 L313.00,293.33 L313.00,297.50 L313.45,297.50 L313.45,297.21 L313.90,297.21 L313.90,302.62 L314.35,302.62 L314.35,302.01 L314.80,302.01 L314.80,303.54 L315.25,303.54 L315.25,305.26 L315.70,305.26 L315.70,306.36 L316.15,306.36 L316.15,306.80 L316.60,306.80 L316.60,306.80 L317.05,306.80 L317.05,306.80 L317.50,306.80 L317.50,306.80 L317.95,306.80 L317.95,306.80 L318.40,306.80 L318.40,306.80 L318.85,306.80 L318.85,306.80 L319.30,306.80 L319.30,306.80 L319.75,306.80 L319.75,306.80 L320.20,306.80 L320.20,306.80 L320.65,306.80 L320.65,306.80 L321.10,306.80 L321.10,306.80 L321.55,306.80 L321.55,306.80 L322.00,306.80 L322.00,306.80 L322.45,306.80 L322.45,306.80 L322.90,306.80 L322.90,306.80 L323.35,306.80 L323.35,306.80 L323.80,306.80 L323.80,306.80 L324.25,306.80 L324.25,306.80 L324.70,306.80 L324.70,306.80 L325.15,306.80 L325.15,306.80 L325.60,306.80 L325.60,306.80 L326.05,306.80 L326.05,306.80 L326.50,306.80 L326.50,306.80 L326.95,306.80 L326.95,306.80 L327.40,306.80 L327.40,306.80 L327.85,306.80 L327.85,306.80 L328.30,306.80 L328.30,306.80 L328.75,306.80 L328.75,306.80 L329.20,306.80 L329.20,306.80 L329.65,306.80 L329.65,306.80 L330.10,306.80 L330.10,306.80 L330.55,306.80 L330.55,306.80 L331.00,306.80 L331.00,306.80 L331.45,306.80 L331.45,306.80 L331.90,306.80 L331.90,306.80 L332.35,306.80 L332.35,306.80 L332.80,306.80 L332.80,306.80 L333.25,306.80 L333.25,306.80 L333.70,306.80 L333.70,306.80 L334.15,306.80 L334.15,306.80 L334.60,306.80 L334.60,306.80 L335.05,306.80 L335.05,306.80 L335.50,306.80 L335.50,306.80 L335.95,306.80 L335.50,306.80 Z" fill="#5e5e5e" stroke="none" stroke-width="0.5" opacity="1"/>
<path d="M290.50,306.80 L290.50,306.80 L290.95,306.80 L290.95,306.80 L291.40,306.80 L291.40,306.80 L291.85,306.80 L291.85,306.80 L292.30,306.80 L292.30,306.80 L292.75,306.80 L292.75,306.80 L293.20,306.80 L293.20,306.80 L293.65,306.80 L293.65,306.80 L294.10,306.80 L294.10,306.80 L294.55,306.80 L294.55,306.80 L295.00,306.80 L295.00,306.80 L295.45,306.80 L295.45,306.80 L295.90,306.80 L295.90,306.80 L296.35,306.80 L296.35,306.80 L296.80,306.80 L296.80,306.80 L297.25,306.80 L297.25,306.80 L297.70,306.80 L297.70,306.80 L298.15,306.80 L298.15,306.80 L298.60,306.80 L298.60,306.80 L299.05,306.80 L299.05,306.80 L299.50,306.80 L299.50,306.80 L299.95,306.80 L299.95,306.80 L300.40,306.80 L300.40,306.80 L300.85,306.80 L300.85,306.80 L301.30,306.80 L301.30,306.80 L301.75,306.80 L301.75,306.80 L302.20,306.80 L302.20,306.80 L302.65,306.80 L302.65,306.80 L303.10,306.80 L303.10,306.80 L303.55,306.80 L303.55,306.80 L304.00,306.80 L304.00,306.80 L304.45,306.80 L304.45,306.80 L304.90,306.80 L304.90,306.80 L305.35,306.80 L305.35,306.80 L305.80,306.80 L305.80,306.80 L306.25,306.80 L306.25,306.80 L306.70,306.80 L306.70,306.80 L307.15,306.80 L307.15,306.80 L307.60,306.80 L307.60,306.80 L308.05,306.80 L308.05,306.80 L308.50,306.80 L308.50,306.80 L308.95,306.80 L308.95,303.72 L309.40,303.72 L309.40,299.67 L309.85,299.67 L309.85,297.96 L310.30,297.96 L310.30,294.09 L310.75,294.09 L310.75,287.83 L311.20,287.83 L311.20,282.15 L311.65,282.15 L311.65,271.63 L312.10,271.63 L312.10,267.82 L312.55,267.82 L312.55,263.04 L313.00,263.04 L313.00,260.83 L313.45,260.83 L313.45,252.89 L313.90,252.89 L313.90,251.71 L314.35,251.71 L314.35,249.03 L314.80,249.03 L314.80,248.95 L315.25,248.95 L315.25,243.33 L315.70,243.33 L315.70,241.50 L316.15,241.50 L316.15,244.73 L316.60,244.73 L316.60,246.74 L317.05,246.74 L317.05,241.48 L317.50,241.48 L317.50,243.25 L317.95,243.25 L317.95,241.76 L318.40,241.76 L318.40,246.51 L318.85,246.51 L318.85,249.68 L319.30,249.68 L319.30,246.91 L319.75,246.91 L319.75,249.52 L320.20,249.52 L320.20,252.97 L320.65,252.97 L320.65,259.28 L321.10,259.28 L321.10,257.59 L321.55,257.59 L321.55,263.13 L322.00,263.13 L322.00,266.55 L322.45,266.55 L322.45,264.53 L322.90,264.53 L322.90,270.25 L323.35,270.25 L323.35,272.42 L323.80,272.42 L323.80,276.16 L324.25,276.16 L324.25,282.39 L324.70,282.39 L324.70,286.23 L325.15,286.23 L325.15,285.62 L325.60,285.62 L325.60,293.36 L326.05,293.36 L326.05,294.17 L326.50,294.17 L326.50,297.29 L326.95,297.29 L326.95,296.88 L327.40,296.88 L327.40,299.53 L327.85,299.53 L327.85,301.46 L328.30,301.46 L328.30,301.25 L328.75,301.25 L328.75,304.48 L329.20,304.48 L329.20,304.20 L329.65,304.20 L329.65,305.89 L330.10,305.89 L330.10,306.80 L330.55,306.80 L330.55,306.80 L331.00,306.80 L331.00,306.80 L331.45,306.80 L331.45,306.80 L331.90,306.80 L331.90,306.80 L332.35,306.80 L332.35,306.80 L332.80,306.80 L332.80,306.80 L333.25,306.80 L333.25,306.80 L333.70,306.80 L333.70,306.80 L334.15,306.80 L334.15,306.80 L334.60,306.80 L334.60,306.80 L335.05,306.80 L335.05,306.80 L335.50,306.80 L335.50,306.80 L335.95,306.80 L335.95,306.80 L336.40,306.80 L336.40,306.80 L336.85,306.80 L336.85,306.80 L337.30,306.80 L337.30,306.80 L337.75,306.80 L337.75,306.80 L338.20,306.80 L338.20,306.80 L338.65,306.80 L338.65,306.80 L339.10,306.80 L339.10,306.80 L339.55,306.80 L339.55,306.80 L340.00,306.80 L340.00,306.80 L340.45,306.80 L340.45,306.80 L340.90,306.80 L340.90,306.80 L341.35,306.80 L341.35,306.80 L341.80,306.80 L341.80,306.80 L342.25,306.80 L342.25,306.80 L342.70,306.80 L342.70,306.80 L343.15,306.80 L343.15,306.80 L343.60,306.80 L343.60,306.80 L344.05,306.80 L344.05,306.80 L344.50,306.80 L344.50,306.80 L344.95,306.80 L344.95,306.80 L345.40,306.80 L345.40,306.80 L345.85,306.80 L345.85,306.80 L346.30,306.80 L346.30,306.80 L346.75,306.80 L346.75,306.80 L347.20,306.80 L347.20,306.80 L347.65,306.80 L347.65,306.80 L348.10,306.80 L348.10,306.80 L348.55,306.80 L348.55,306.80 L349.00,306.80 L349.00,306.80 L349.45,306.80 L349.45,306.80 L349.90,306.80 L349.90,306.80 L350.35,306.80 L350.35,306.80 L350.80,306.80 L350.80,306.80 L351.25,306.80 L351.25,306.80 L351.70,306.80 L351.70,306.80 L352.15,306.80 L352.15,306.80 L352.60,306.80 L352.60,306.80 L353.05,306.80 L353.05,306.80 L353.50,306.80 L353.50,306.80 L353.95,306.80 L353.95,306.80 L354.40,306.80 L354.40,306.80 L354.85,306.80 L354.85,306.80 L355.30,306.80 L355.30,306.80 L355.75,306.80 L355.50,306.80 Z" fill="#d0d0d0" stroke="#999" stroke-width="0.4" opacity="1"/>
<path d="M281.75,306.80 L282.25,306.80 L282.75,306.80 L283.25,306.80 L283.75,306.80 L284.25,306.80 L284.75,306.80 L285.25,306.80 L285.75,306.80 L286.25,306.80 L286.75,306.80 L287.25,306.80 L287.75,306.80 L288.25,306.80 L288.75,306.80 L289.25,306.80 L289.75,306.80 L290.25,306.80 L290.75,306.80 L291.25,306.80 L291.75,306.80 L292.25,306.80 L292.75,306.80 L293.25,306.80 L293.75,306.80 L294.25,306.80 L294.75,306.80 L295.25,306.80 L295.75,306.80 L296.25,306.80 L296.75,306.80 L297.25,306.80 L297.75,306.80 L298.25,306.80 L298.75,306.80 L299.25,306.80 L299.75,306.80 L300.25,306.80 L300.75,306.80 L301.25,306.80 L301.75,306.80 L302.25,306.80 L302.75,306.80 L303.25,306.80 L303.75,306.80 L304.25,306.80 L304.75,306.80 L305.25,306.80 L305.75,306.80 L306.25,306.80 L306.75,306.80 L307.25,306.80 L307.75,306.80 L308.25,306.80 L308.75,306.80 L309.25,306.80 L309.75,306.80 L310.25,306.80 L310.75,305.38 L311.25,302.85 L311.75,302.35 L312.25,302.96 L312.75,294.93 L313.25,290.74 L313.75,282.83 L314.25,280.33 L314.75,258.01 L315.25,251.37 L315.75,240.91 L316.25,234.73 L316.75,222.18 L317.25,219.74 L317.75,212.91 L318.25,216.86 L318.75,219.16 L319.25,227.32 L319.75,236.15 L320.25,252.58 L320.75,268.37 L321.25,269.29 L321.75,278.46 L322.25,285.68 L322.75,288.76 L323.25,293.06 L323.75,293.41 L324.25,297.11 L324.75,299.36 L325.25,301.04 L325.75,302.66 L326.25,301.67 L326.75,302.66 L327.25,304.16 L327.75,304.55 L328.25,304.36 L328.75,304.97 L329.25,305.48 L329.75,305.78 L330.25,305.69 L330.75,306.37 L331.25,306.35 L331.75,306.34 L332.25,306.80 L332.75,306.80 L333.25,306.80 L333.75,306.80 L334.25,306.80 L334.75,306.80 L335.25,306.80 L335.75,306.80 L336.25,306.80 L336.75,306.80 L337.25,306.80 L337.75,306.80 L338.25,306.80 L338.75,306.80 L339.25,306.80 L339.75,306.80 L340.25,306.80 L340.75,306.80 L341.25,306.80 L341.75,306.80 L342.25,306.80 L342.75,306.80 L343.25,306.80 L343.75,306.80 L344.25,306.80 L344.75,306.80 L345.25,306.80 L345.75,306.80 L346.25,306.80 L346.75,306.80 L347.25,306.80 L347.75,306.80 L348.25,306.80 L348.75,306.80 L349.25,306.80 L349.75,306.80 L350.25,306.80 L350.75,306.80 L351.25,306.80 L351.75,306.80 L352.25,306.80 L352.75,306.80 L353.25,306.80 L353.75,306.80 L354.25,306.80 L354.75,306.80 L355.25,306.80 L355.75,306.80 L356.25,306.80 L356.75,306.80 L357.25,306.80 L357.75,306.80 L358.25,306.80 L358.75,306.80 L359.25,306.80 L359.75,306.80 L360.25,306.80 L360.75,306.80 L361.25,306.80 L361.75,306.80 L362.25,306.80 L362.75,306.80 L363.25,306.80 L363.75,306.80 L364.25,306.80 L364.75,306.80 L365.25,306.80 L365.75,306.80 L366.25,306.80 L366.75,306.80 L367.25,306.80 L367.75,306.80 L368.25,306.80 L368.75,306.80 L369.25,306.80 L369.75,306.80 L370.25,306.80 L370.75,306.80 L371.25,306.80 L371.75,306.80 L372.25,306.80 L372.75,306.80 L373.25,306.80 L373.75,306.80 L374.25,306.80 L374.75,306.80 L375.25,306.80 L375.75,306.80 L376.25,306.80 L376.75,306.80 L377.25,306.80 L377.75,306.80 L378.25,306.80 L378.75,306.80 L379.25,306.80 L379.75,306.80 L380.25,306.80 L380.75,306.80 L381.25,306.80 L381.75,306.80 L382.25,306.80 L382.75,306.80 L383.25,306.80 L383.75,306.80 L384.25,306.80 L384.75,306.80 L385.25,306.80 L385.75,306.80" fill="none" stroke="#555" stroke-width="0.8" opacity="1" stroke-linejoin="miter"/>
<path d="M281.75,306.80 L282.25,306.80 L282.75,306.80 L283.25,306.80 L283.75,306.80 L284.25,306.77 L284.75,306.59 L285.25,305.87 L285.75,305.96 L286.25,305.72 L286.75,305.77 L287.25,305.66 L287.75,305.82 L288.25,305.75 L288.75,305.27 L289.25,305.88 L289.75,305.43 L290.25,305.26 L290.75,305.32 L291.25,305.40 L291.75,305.50 L292.25,305.06 L292.75,305.64 L293.25,305.01 L293.75,304.69 L294.25,304.89 L294.75,304.82 L295.25,304.46 L295.75,304.60 L296.25,304.34 L296.75,303.61 L297.25,303.48 L297.75,302.75 L298.25,303.53 L298.75,302.49 L299.25,302.09 L299.75,301.42 L300.25,301.39 L300.75,300.30 L301.25,299.62 L301.75,298.20 L302.25,297.65 L302.75,295.93 L303.25,296.54 L303.75,294.44 L304.25,294.37 L304.75,291.05 L305.25,288.92 L305.75,286.85 L306.25,285.84 L306.75,284.59 L307.25,280.94 L307.75,277.46 L308.25,269.97 L308.75,268.46 L309.25,261.42 L309.75,262.21 L310.25,257.07 L310.75,252.10 L311.25,250.34 L311.75,240.86 L312.25,235.74 L312.75,230.76 L313.25,221.77 L313.75,218.04 L314.25,216.02 L314.75,213.23 L315.25,211.92 L315.75,204.94 L316.25,201.75 L316.75,207.03 L317.25,210.70 L317.75,213.50 L318.25,213.17 L318.75,214.81 L319.25,215.17 L319.75,222.70 L320.25,225.02 L320.75,230.71 L321.25,235.65 L321.75,238.46 L322.25,245.41 L322.75,247.74 L323.25,254.97 L323.75,259.04 L324.25,264.41 L324.75,268.31 L325.25,273.58 L325.75,281.73 L326.25,285.29 L326.75,288.43 L327.25,292.59 L327.75,293.05 L328.25,296.12 L328.75,297.70 L329.25,298.27 L329.75,300.81 L330.25,301.32 L330.75,304.14 L331.25,304.35 L331.75,304.23 L332.25,304.91 L332.75,304.90 L333.25,305.41 L333.75,304.83 L334.25,305.43 L334.75,305.04 L335.25,305.41 L335.75,305.75 L336.25,305.93 L336.75,305.72 L337.25,305.82 L337.75,305.96 L338.25,306.56 L338.75,306.02 L339.25,306.60 L339.75,306.22 L340.25,306.11 L340.75,306.17 L341.25,306.40 L341.75,306.43 L342.25,306.54 L342.75,306.06 L343.25,306.02 L343.75,306.50 L344.25,306.54 L344.75,306.37 L345.25,306.69 L345.75,306.34 L346.25,306.80 L346.75,306.38 L347.25,306.80 L347.75,306.68 L348.25,306.65 L348.75,306.68 L349.25,306.69 L349.75,306.62 L350.25,306.78 L350.75,306.79 L351.25,306.80 L351.75,306.80 L352.25,306.80 L352.75,306.80 L353.25,306.80 L353.75,306.80 L354.25,306.80 L354.75,306.80 L355.25,306.80 L355.75,306.80 L356.25,306.80 L356.75,306.80 L357.25,306.80 L357.75,306.80 L358.25,306.80 L358.75,306.80 L359.25,306.80 L359.75,306.80 L360.25,306.80 L360.75,306.80 L361.25,306.80 L361.75,306.80 L362.25,306.80 L362.75,306.80 L363.25,306.80 L363.75,306.80 L364.25,306.80 L364.75,306.80 L365.25,306.80 L365.75,306.80 L366.25,306.80 L366.75,306.80 L367.25,306.80 L367.75,306.80 L368.25,306.80 L368.75,306.80 L369.25,306.80 L369.75,306.80 L370.25,306.80 L370.75,306.80 L371.25,306.80 L371.75,306.80 L372.25,306.80 L372.75,306.80 L373.25,306.80 L373.75,306.80 L374.25,306.80 L374.75,306.80 L375.25,306.80 L375.75,306.80 L376.25,306.80 L376.75,306.80 L377.25,306.80 L377.75,306.80 L378.25,306.80 L378.75,306.80 L379.25,306.80 L379.75,306.80 L380.25,306.80 L380.75,306.80 L381.25,306.80 L381.75,306.80 L382.25,306.80 L382.75,306.80 L383.25,306.80 L383.75,306.80 L384.25,306.80 L384.75,306.80 L385.25,306.80 L385.75,306.80" fill="none" stroke="#cc2a2a" stroke-width="1.0" opacity="1" stroke-linejoin="miter"/>
<path d="M281.75,306.80 L282.25,306.80 L282.75,306.80 L283.25,306.80 L283.75,306.63 L284.25,306.15 L284.75,306.27 L285.25,305.82 L285.75,305.63 L286.25,305.68 L286.75,305.98 L287.25,305.56 L287.75,305.73 L288.25,305.58 L288.75,305.38 L289.25,305.42 L289.75,305.66 L290.25,305.53 L290.75,304.88 L291.25,305.79 L291.75,305.35 L292.25,304.85 L292.75,305.45 L293.25,305.55 L293.75,304.82 L294.25,304.32 L294.75,304.96 L295.25,304.92 L295.75,304.59 L296.25,304.05 L296.75,303.88 L297.25,302.47 L297.75,302.66 L298.25,303.19 L298.75,303.53 L299.25,301.67 L299.75,302.64 L300.25,299.69 L300.75,299.11 L301.25,298.55 L301.75,297.92 L302.25,298.14 L302.75,296.70 L303.25,294.66 L303.75,296.42 L304.25,292.34 L304.75,289.35 L305.25,287.49 L305.75,283.37 L306.25,283.09 L306.75,279.61 L307.25,275.01 L307.75,271.93 L308.25,265.68 L308.75,261.61 L309.25,257.85 L309.75,256.60 L310.25,251.16 L310.75,249.94 L311.25,240.73 L311.75,229.60 L312.25,231.61 L312.75,221.28 L313.25,218.88 L313.75,213.17 L314.25,211.04 L314.75,206.65 L315.25,208.58 L315.75,210.77 L316.25,212.22 L316.75,214.73 L317.25,213.00 L317.75,214.32 L318.25,212.04 L318.75,218.80 L319.25,223.73 L319.75,226.03 L320.25,232.75 L320.75,231.82 L321.25,239.00 L321.75,244.56 L322.25,249.79 L322.75,254.69 L323.25,260.17 L323.75,265.48 L324.25,268.50 L324.75,274.70 L325.25,280.99 L325.75,284.76 L326.25,287.26 L326.75,291.25 L327.25,295.31 L327.75,295.66 L328.25,298.47 L328.75,298.17 L329.25,301.25 L329.75,302.68 L330.25,303.83 L330.75,304.13 L331.25,304.05 L331.75,304.41 L332.25,304.95 L332.75,304.35 L333.25,305.21 L333.75,305.04 L334.25,304.84 L334.75,306.05 L335.25,305.65 L335.75,305.69 L336.25,305.68 L336.75,306.27 L337.25,306.04 L337.75,306.21 L338.25,305.64 L338.75,305.92 L339.25,306.26 L339.75,306.00 L340.25,306.27 L340.75,306.13 L341.25,306.47 L341.75,306.58 L342.25,306.35 L342.75,306.22 L343.25,306.40 L343.75,306.56 L344.25,306.45 L344.75,306.45 L345.25,306.55 L345.75,306.72 L346.25,306.48 L346.75,306.67 L347.25,306.65 L347.75,306.64 L348.25,306.72 L348.75,306.80 L349.25,306.75 L349.75,306.80 L350.25,306.80 L350.75,306.80 L351.25,306.80 L351.75,306.80 L352.25,306.80 L352.75,306.80 L353.25,306.80 L353.75,306.80 L354.25,306.80 L354.75,306.80 L355.25,306.80 L355.75,306.80 L356.25,306.80 L356.75,306.80 L357.25,306.80 L357.75,306.80 L358.25,306.80 L358.75,306.80 L359.25,306.80 L359.75,306.80 L360.25,306.80 L360.75,306.80 L361.25,306.80 L361.75,306.80 L362.25,306.80 L362.75,306.80 L363.25,306.80 L363.75,306.80 L364.25,306.80 L364.75,306.80 L365.25,306.80 L365.75,306.80 L366.25,306.80 L366.75,306.80 L367.25,306.80 L367.75,306.80 L368.25,306.80 L368.75,306.80 L369.25,306.80 L369.75,306.80 L370.25,306.80 L370.75,306.80 L371.25,306.80 L371.75,306.80 L372.25,306.80 L372.75,306.80 L373.25,306.80 L373.75,306.80 L374.25,306.80 L374.75,306.80 L375.25,306.80 L375.75,306.80 L376.25,306.80 L376.75,306.80 L377.25,306.80 L377.75,306.80 L378.25,306.80 L378.75,306.80 L379.25,306.80 L379.75,306.80 L380.25,306.80 L380.75,306.80 L381.25,306.80 L381.75,306.80 L382.25,306.80 L382.75,306.80 L383.25,306.80 L383.75,306.80 L384.25,306.80 L384.75,306.80 L385.25,306.80 L385.75,306.80" fill="none" stroke="#9a3c9a" stroke-width="1.0" opacity="1" stroke-linejoin="miter"/>
<path d="M281.75,306.80 L282.25,306.80 L282.75,306.67 L283.25,306.45 L283.75,306.41 L284.25,306.35 L284.75,305.52 L285.25,305.71 L285.75,306.11 L286.25,305.77 L286.75,305.29 L287.25,305.96 L287.75,305.82 L288.25,305.47 L288.75,305.78 L289.25,305.36 L289.75,304.61 L290.25,304.96 L290.75,304.89 L291.25,305.39 L291.75,305.74 L292.25,305.42 L292.75,305.40 L293.25,305.34 L293.75,305.40 L294.25,304.92 L294.75,304.56 L295.25,304.35 L295.75,303.64 L296.25,302.95 L296.75,302.73 L297.25,302.42 L297.75,302.48 L298.25,302.24 L298.75,301.40 L299.25,300.75 L299.75,299.50 L300.25,298.40 L300.75,298.86 L301.25,297.86 L301.75,296.79 L302.25,296.50 L302.75,294.27 L303.25,295.63 L303.75,294.36 L304.25,289.57 L304.75,286.42 L305.25,285.51 L305.75,281.31 L306.25,276.22 L306.75,275.62 L307.25,270.64 L307.75,266.25 L308.25,259.63 L308.75,256.01 L309.25,256.32 L309.75,249.01 L310.25,247.15 L310.75,243.28 L311.25,226.76 L311.75,225.85 L312.25,221.32 L312.75,221.97 L313.25,213.74 L313.75,212.67 L314.25,209.53 L314.75,206.07 L315.25,205.33 L315.75,208.67 L316.25,210.52 L316.75,212.83 L317.25,212.00 L317.75,220.32 L318.25,222.29 L318.75,224.64 L319.25,224.39 L319.75,228.36 L320.25,234.82 L320.75,241.79 L321.25,248.89 L321.75,252.44 L322.25,257.75 L322.75,258.83 L323.25,267.58 L323.75,273.24 L324.25,278.03 L324.75,280.91 L325.25,282.81 L325.75,289.44 L326.25,293.23 L326.75,295.26 L327.25,297.92 L327.75,296.80 L328.25,299.48 L328.75,300.99 L329.25,301.95 L329.75,304.09 L330.25,303.66 L330.75,304.11 L331.25,304.78 L331.75,304.77 L332.25,305.20 L332.75,305.01 L333.25,304.89 L333.75,305.42 L334.25,305.28 L334.75,305.59 L335.25,305.40 L335.75,305.67 L336.25,305.47 L336.75,305.87 L337.25,306.15 L337.75,306.05 L338.25,306.02 L338.75,306.31 L339.25,306.27 L339.75,306.30 L340.25,306.46 L340.75,306.48 L341.25,306.28 L341.75,306.63 L342.25,306.39 L342.75,306.73 L343.25,306.46 L343.75,306.45 L344.25,306.34 L344.75,306.80 L345.25,306.54 L345.75,306.62 L346.25,306.60 L346.75,306.60 L347.25,306.57 L347.75,306.73 L348.25,306.72 L348.75,306.66 L349.25,306.80 L349.75,306.80 L350.25,306.80 L350.75,306.80 L351.25,306.80 L351.75,306.80 L352.25,306.80 L352.75,306.80 L353.25,306.80 L353.75,306.80 L354.25,306.80 L354.75,306.80 L355.25,306.80 L355.75,306.80 L356.25,306.80 L356.75,306.80 L357.25,306.80 L357.75,306.80 L358.25,306.80 L358.75,306.80 L359.25,306.80 L359.75,306.80 L360.25,306.80 L360.75,306.80 L361.25,306.80 L361.75,306.80 L362.25,306.80 L362.75,306.80 L363.25,306.80 L363.75,306.80 L364.25,306.80 L364.75,306.80 L365.25,306.80 L365.75,306.80 L366.25,306.80 L366.75,306.80 L367.25,306.80 L367.75,306.80 L368.25,306.80 L368.75,306.80 L369.25,306.80 L369.75,306.80 L370.25,306.80 L370.75,306.80 L371.25,306.80 L371.75,306.80 L372.25,306.80 L372.75,306.80 L373.25,306.80 L373.75,306.80 L374.25,306.80 L374.75,306.80 L375.25,306.80 L375.75,306.80 L376.25,306.80 L376.75,306.80 L377.25,306.80 L377.75,306.80 L378.25,306.80 L378.75,306.80 L379.25,306.80 L379.75,306.80 L380.25,306.80 L380.75,306.80 L381.25,306.80 L381.75,306.80 L382.25,306.80 L382.75,306.80 L383.25,306.80 L383.75,306.80 L384.25,306.80 L384.75,306.80 L385.25,306.80 L385.75,306.80" fill="none" stroke="#3a4ab8" stroke-width="1.0" opacity="1" stroke-linejoin="miter"/>
</g>
<rect x="280.5" y="202.0" width="105.19999999999999" height="104.80000000000001" fill="none" stroke="#8a8a8a" stroke-width="0.7"/>
<text transform="translate(278.00,203.00) rotate(-90)" font-size="6.0" text-anchor="middle" fill="#222" class="nb" textLength="7.6" lengthAdjust="spacingAndGlyphs">500</text>
<text transform="translate(278.00,223.60) rotate(-90)" font-size="6.0" text-anchor="middle" fill="#222" class="nb" textLength="7.6" lengthAdjust="spacingAndGlyphs">400</text>
<text transform="translate(278.00,244.30) rotate(-90)" font-size="6.0" text-anchor="middle" fill="#222" class="nb" textLength="7.6" lengthAdjust="spacingAndGlyphs">300</text>
<text transform="translate(278.00,265.10) rotate(-90)" font-size="6.0" text-anchor="middle" fill="#222" class="nb" textLength="7.6" lengthAdjust="spacingAndGlyphs">200</text>
<text transform="translate(278.00,286.00) rotate(-90)" font-size="6.0" text-anchor="middle" fill="#222" class="nb" textLength="7.6" lengthAdjust="spacingAndGlyphs">100</text>
<text transform="translate(278.00,306.40) rotate(-90)" font-size="6.0" text-anchor="middle" fill="#222" class="nb" >0</text>
<text class="nb" x="275.60" y="313.0" font-size="5.2" fill="#222">10<tspan dy="-2.0" font-size="4.2">0</tspan></text>
<text class="nb" x="301.90" y="313.0" font-size="5.2" fill="#222">10<tspan dy="-2.0" font-size="4.2">1</tspan></text>
<text class="nb" x="329.00" y="313.0" font-size="5.2" fill="#222">10<tspan dy="-2.0" font-size="4.2">2</tspan></text>
<text class="nb" x="354.40" y="313.0" font-size="5.2" fill="#222">10<tspan dy="-2.0" font-size="4.2">3</tspan></text>
<text class="nb" x="381.20" y="313.0" font-size="5.2" fill="#222">10<tspan dy="-2.0" font-size="4.2">4</tspan></text>
<clipPath id="cdr"><rect x="400.3" y="202.0" width="114.40000000000003" height="104.80000000000001"/></clipPath>
<g clip-path="url(#cdr)">
<path d="M400.30,306.80 L400.30,306.80 L400.75,306.80 L400.75,306.80 L401.20,306.80 L401.20,306.80 L401.65,306.80 L401.65,306.80 L402.10,306.80 L402.10,306.34 L402.55,306.34 L402.55,304.74 L403.00,304.74 L403.00,302.90 L403.45,302.90 L403.45,301.14 L403.90,301.14 L403.90,298.93 L404.35,298.93 L404.35,296.86 L404.80,296.86 L404.80,297.36 L405.25,297.36 L405.25,294.88 L405.70,294.88 L405.70,292.74 L406.15,292.74 L406.15,291.08 L406.60,291.08 L406.60,289.10 L407.05,289.10 L407.05,286.59 L407.50,286.59 L407.50,285.71 L407.95,285.71 L407.95,283.23 L408.40,283.23 L408.40,279.73 L408.85,279.73 L408.85,281.52 L409.30,281.52 L409.30,273.22 L409.75,273.22 L409.75,274.10 L410.20,274.10 L410.20,261.01 L410.65,261.01 L410.65,259.34 L411.10,259.34 L411.10,251.82 L411.55,251.82 L411.55,247.59 L412.00,247.59 L412.00,237.34 L412.45,237.34 L412.45,223.21 L412.90,223.21 L412.90,216.76 L413.35,216.76 L413.35,213.29 L413.80,213.29 L413.80,201.12 L414.25,201.12 L414.25,204.28 L414.70,204.28 L414.70,208.17 L415.15,208.17 L415.15,209.98 L415.60,209.98 L415.60,206.57 L416.05,206.57 L416.05,203.21 L416.50,203.21 L416.50,207.52 L416.95,207.52 L416.95,211.36 L417.40,211.36 L417.40,214.88 L417.85,214.88 L417.85,221.45 L418.30,221.45 L418.30,236.89 L418.75,236.89 L418.75,287.27 L419.20,287.27 L419.20,289.87 L419.65,289.87 L419.65,292.30 L420.10,292.30 L420.10,296.46 L420.55,296.46 L420.55,295.96 L421.00,295.96 L421.00,300.30 L421.45,300.30 L421.45,299.53 L421.90,299.53 L421.90,301.13 L422.35,301.13 L422.35,301.72 L422.80,301.72 L422.80,301.10 L423.25,301.10 L423.25,301.79 L423.70,301.79 L423.70,303.25 L424.15,303.25 L424.15,304.30 L424.60,304.30 L424.60,304.29 L425.05,304.29 L425.05,304.53 L425.50,304.53 L425.50,304.87 L425.95,304.87 L425.95,305.16 L426.40,305.16 L426.40,305.17 L426.85,305.17 L426.85,305.82 L427.30,305.82 L427.30,306.20 L427.75,306.20 L427.75,306.71 L428.20,306.71 L428.20,306.80 L428.65,306.80 L428.65,306.80 L429.10,306.80 L429.10,306.80 L429.55,306.80 L429.55,306.80 L430.00,306.80 L430.00,306.80 L430.45,306.80 L430.45,306.80 L430.90,306.80 L430.90,306.80 L431.35,306.80 L431.35,306.80 L431.80,306.80 L431.80,306.80 L432.25,306.80 L432.25,306.80 L432.70,306.80 L432.70,306.80 L433.15,306.80 L433.15,306.80 L433.60,306.80 L433.60,306.80 L434.05,306.80 L434.05,306.80 L434.50,306.80 L434.50,306.80 L434.95,306.80 L434.95,306.80 L435.40,306.80 L435.40,306.80 L435.85,306.80 L435.85,306.80 L436.30,306.80 L436.30,306.80 L436.75,306.80 L436.75,306.80 L437.20,306.80 L437.20,306.80 L437.65,306.80 L437.65,306.80 L438.10,306.80 L438.10,306.80 L438.55,306.80 L438.55,306.80 L439.00,306.80 L439.00,306.80 L439.45,306.80 L439.45,306.80 L439.90,306.80 L439.90,306.80 L440.35,306.80 L440.30,306.80 Z" fill="#000" stroke="none" stroke-width="0.5" opacity="1"/>
<path d="M401.30,306.80 L401.30,306.80 L401.75,306.80 L401.75,306.80 L402.20,306.80 L402.20,306.80 L402.65,306.80 L402.65,306.80 L403.10,306.80 L403.10,306.63 L403.55,306.63 L403.55,305.84 L404.00,305.84 L404.00,304.52 L404.45,304.52 L404.45,304.48 L404.90,304.48 L404.90,303.30 L405.35,303.30 L405.35,302.62 L405.80,302.62 L405.80,302.40 L406.25,302.40 L406.25,301.26 L406.70,301.26 L406.70,299.72 L407.15,299.72 L407.15,301.86 L407.60,301.86 L407.60,300.46 L408.05,300.46 L408.05,300.44 L408.50,300.44 L408.50,299.94 L408.95,299.94 L408.95,301.10 L409.40,301.10 L409.40,297.89 L409.85,297.89 L409.85,297.49 L410.30,297.49 L410.30,294.96 L410.75,294.96 L410.75,295.17 L411.20,295.17 L411.20,294.24 L411.65,294.24 L411.65,292.90 L412.10,292.90 L412.10,290.13 L412.55,290.13 L412.55,291.64 L413.00,291.64 L413.00,288.88 L413.45,288.88 L413.45,289.19 L413.90,289.19 L413.90,286.33 L414.35,286.33 L414.35,284.85 L414.80,284.85 L414.80,281.92 L415.25,281.92 L415.25,278.67 L415.70,278.67 L415.70,278.84 L416.15,278.84 L416.15,275.66 L416.60,275.66 L416.60,273.55 L417.05,273.55 L417.05,270.90 L417.50,270.90 L417.50,265.18 L417.95,265.18 L417.95,262.71 L418.40,262.71 L418.40,262.61 L418.85,262.61 L418.85,257.75 L419.30,257.75 L419.30,254.85 L419.75,254.85 L419.75,249.92 L420.20,249.92 L420.20,254.25 L420.65,254.25 L420.65,246.29 L421.10,246.29 L421.10,242.60 L421.55,242.60 L421.55,238.38 L422.00,238.38 L422.00,234.91 L422.45,234.91 L422.45,228.21 L422.90,228.21 L422.90,223.72 L423.35,223.72 L423.35,226.25 L423.80,226.25 L423.80,220.58 L424.25,220.58 L424.25,211.66 L424.70,211.66 L424.70,210.64 L425.15,210.64 L425.15,215.85 L425.60,215.85 L425.60,210.80 L426.05,210.80 L426.05,210.00 L426.50,210.00 L426.50,205.61 L426.95,205.61 L426.95,209.55 L427.40,209.55 L427.40,210.78 L427.85,210.78 L427.85,216.05 L428.30,216.05 L428.30,207.70 L428.75,207.70 L428.75,219.16 L429.20,219.16 L429.20,211.30 L429.65,211.30 L429.65,218.71 L430.10,218.71 L430.10,237.17 L430.55,237.17 L430.55,248.61 L431.00,248.61 L431.00,254.41 L431.45,254.41 L431.45,264.15 L431.90,264.15 L431.90,270.70 L432.35,270.70 L432.35,282.37 L432.80,282.37 L432.80,287.47 L433.25,287.47 L433.25,292.21 L433.70,292.21 L433.70,295.77 L434.15,295.77 L434.15,297.86 L434.60,297.86 L434.60,299.69 L435.05,299.69 L435.05,303.21 L435.50,303.21 L435.50,302.60 L435.95,302.60 L435.95,303.98 L436.40,303.98 L436.40,305.62 L436.85,305.62 L436.85,306.66 L437.30,306.66 L437.30,306.80 L437.75,306.80 L437.75,306.80 L438.20,306.80 L438.20,306.80 L438.65,306.80 L438.65,306.80 L439.10,306.80 L439.10,306.80 L439.55,306.80 L439.55,306.80 L440.00,306.80 L440.00,306.80 L440.45,306.80 L440.45,306.80 L440.90,306.80 L440.90,306.80 L441.35,306.80 L441.35,306.80 L441.80,306.80 L441.80,306.80 L442.25,306.80 L442.25,306.80 L442.70,306.80 L442.70,306.80 L443.15,306.80 L443.15,306.80 L443.60,306.80 L443.60,306.80 L444.05,306.80 L444.05,306.80 L444.50,306.80 L444.50,306.80 L444.95,306.80 L444.95,306.80 L445.40,306.80 L445.40,306.80 L445.85,306.80 L445.85,306.80 L446.30,306.80 L446.30,306.80 L446.75,306.80 L446.75,306.80 L447.20,306.80 L447.20,306.80 L447.65,306.80 L447.65,306.80 L448.10,306.80 L448.10,306.80 L448.55,306.80 L448.55,306.80 L449.00,306.80 L449.00,306.80 L449.45,306.80 L449.45,306.80 L449.90,306.80 L449.90,306.80 L450.35,306.80 L450.35,306.80 L450.80,306.80 L450.80,306.80 L451.25,306.80 L451.25,306.80 L451.70,306.80 L451.70,306.80 L452.15,306.80 L452.15,306.80 L452.60,306.80 L452.60,306.80 L453.05,306.80 L453.05,306.80 L453.50,306.80 L453.50,306.80 L453.95,306.80 L453.95,306.80 L454.40,306.80 L454.40,306.80 L454.85,306.80 L454.85,306.80 L455.30,306.80 L455.30,306.80 L455.75,306.80 L455.30,306.80 Z" fill="#5e5e5e" stroke="none" stroke-width="0.5" opacity="1"/>
<path d="M410.30,306.80 L410.30,306.80 L410.75,306.80 L410.75,306.80 L411.20,306.80 L411.20,306.80 L411.65,306.80 L411.65,306.80 L412.10,306.80 L412.10,306.80 L412.55,306.80 L412.55,306.80 L413.00,306.80 L413.00,306.80 L413.45,306.80 L413.45,306.80 L413.90,306.80 L413.90,306.80 L414.35,306.80 L414.35,306.80 L414.80,306.80 L414.80,306.80 L415.25,306.80 L415.25,306.80 L415.70,306.80 L415.70,306.80 L416.15,306.80 L416.15,306.80 L416.60,306.80 L416.60,306.80 L417.05,306.80 L417.05,306.80 L417.50,306.80 L417.50,306.80 L417.95,306.80 L417.95,306.80 L418.40,306.80 L418.40,306.80 L418.85,306.80 L418.85,306.80 L419.30,306.80 L419.30,306.80 L419.75,306.80 L419.75,306.80 L420.20,306.80 L420.20,306.80 L420.65,306.80 L420.65,306.80 L421.10,306.80 L421.10,306.80 L421.55,306.80 L421.55,306.80 L422.00,306.80 L422.00,306.80 L422.45,306.80 L422.45,306.80 L422.90,306.80 L422.90,306.80 L423.35,306.80 L423.35,306.80 L423.80,306.80 L423.80,306.80 L424.25,306.80 L424.25,306.80 L424.70,306.80 L424.70,306.80 L425.15,306.80 L425.15,306.80 L425.60,306.80 L425.60,306.80 L426.05,306.80 L426.05,306.80 L426.50,306.80 L426.50,306.80 L426.95,306.80 L426.95,306.80 L427.40,306.80 L427.40,306.80 L427.85,306.80 L427.85,306.80 L428.30,306.80 L428.30,306.80 L428.75,306.80 L428.75,306.80 L429.20,306.80 L429.20,306.16 L429.65,306.16 L429.65,304.02 L430.10,304.02 L430.10,303.34 L430.55,303.34 L430.55,301.26 L431.00,301.26 L431.00,299.10 L431.45,299.10 L431.45,298.42 L431.90,298.42 L431.90,294.87 L432.35,294.87 L432.35,294.68 L432.80,294.68 L432.80,284.75 L433.25,284.75 L433.25,272.93 L433.70,272.93 L433.70,258.73 L434.15,258.73 L434.15,254.33 L434.60,254.33 L434.60,248.54 L435.05,248.54 L435.05,244.50 L435.50,244.50 L435.50,234.16 L435.95,234.16 L435.95,230.49 L436.40,230.49 L436.40,232.36 L436.85,232.36 L436.85,232.99 L437.30,232.99 L437.30,225.15 L437.75,225.15 L437.75,222.52 L438.20,222.52 L438.20,216.92 L438.65,216.92 L438.65,218.64 L439.10,218.64 L439.10,218.58 L439.55,218.58 L439.55,211.06 L440.00,211.06 L440.00,210.24 L440.45,210.24 L440.45,213.21 L440.90,213.21 L440.90,219.28 L441.35,219.28 L441.35,214.54 L441.80,214.54 L441.80,219.68 L442.25,219.68 L442.25,221.94 L442.70,221.94 L442.70,217.08 L443.15,217.08 L443.15,224.68 L443.60,224.68 L443.60,226.60 L444.05,226.60 L444.05,230.80 L444.50,230.80 L444.50,239.14 L444.95,239.14 L444.95,243.49 L445.40,243.49 L445.40,239.90 L445.85,239.90 L445.85,251.59 L446.30,251.59 L446.30,250.42 L446.75,250.42 L446.75,256.67 L447.20,256.67 L447.20,255.02 L447.65,255.02 L447.65,260.34 L448.10,260.34 L448.10,264.04 L448.55,264.04 L448.55,262.48 L449.00,262.48 L449.00,272.29 L449.45,272.29 L449.45,270.05 L449.90,270.05 L449.90,275.36 L450.35,275.36 L450.35,277.68 L450.80,277.68 L450.80,281.92 L451.25,281.92 L451.25,285.12 L451.70,285.12 L451.70,287.05 L452.15,287.05 L452.15,289.85 L452.60,289.85 L452.60,290.49 L453.05,290.49 L453.05,291.67 L453.50,291.67 L453.50,296.19 L453.95,296.19 L453.95,296.30 L454.40,296.30 L454.40,296.69 L454.85,296.69 L454.85,297.87 L455.30,297.87 L455.30,299.21 L455.75,299.21 L455.75,300.17 L456.20,300.17 L456.20,300.49 L456.65,300.49 L456.65,302.41 L457.10,302.41 L457.10,302.55 L457.55,302.55 L457.55,303.23 L458.00,303.23 L458.00,303.43 L458.45,303.43 L458.45,304.37 L458.90,304.37 L458.90,305.13 L459.35,305.13 L459.35,305.33 L459.80,305.33 L459.80,305.43 L460.25,305.43 L460.25,305.64 L460.70,305.64 L460.70,305.80 L461.15,305.80 L461.15,305.88 L461.60,305.88 L461.60,306.42 L462.05,306.42 L462.05,306.80 L462.50,306.80 L462.50,306.80 L462.95,306.80 L462.95,306.80 L463.40,306.80 L463.40,306.80 L463.85,306.80 L463.85,306.80 L464.30,306.80 L464.30,306.80 L464.75,306.80 L464.75,306.80 L465.20,306.80 L465.20,306.80 L465.65,306.80 L465.65,306.80 L466.10,306.80 L466.10,306.80 L466.55,306.80 L466.55,306.80 L467.00,306.80 L467.00,306.80 L467.45,306.80 L467.45,306.80 L467.90,306.80 L467.90,306.80 L468.35,306.80 L468.35,306.80 L468.80,306.80 L468.80,306.80 L469.25,306.80 L469.25,306.80 L469.70,306.80 L469.70,306.80 L470.15,306.80 L470.15,306.80 L470.60,306.80 L470.60,306.80 L471.05,306.80 L471.05,306.80 L471.50,306.80 L471.50,306.80 L471.95,306.80 L471.95,306.80 L472.40,306.80 L472.40,306.80 L472.85,306.80 L472.85,306.80 L473.30,306.80 L473.30,306.80 L473.75,306.80 L473.75,306.80 L474.20,306.80 L474.20,306.80 L474.65,306.80 L474.65,306.80 L475.10,306.80 L475.10,306.80 L475.55,306.80 L475.30,306.80 Z" fill="#d0d0d0" stroke="#999" stroke-width="0.4" opacity="1"/>
<path d="M401.55,306.80 L402.05,306.80 L402.55,306.80 L403.05,306.80 L403.55,306.66 L404.05,305.98 L404.55,306.06 L405.05,305.74 L405.55,305.80 L406.05,305.70 L406.55,305.87 L407.05,305.80 L407.55,305.35 L408.05,305.94 L408.55,305.51 L409.05,305.35 L409.55,305.42 L410.05,305.50 L410.55,305.61 L411.05,305.20 L411.55,305.78 L412.05,305.21 L412.55,304.93 L413.05,305.14 L413.55,305.10 L414.05,304.79 L414.55,305.00 L415.05,305.06 L415.55,304.74 L416.05,304.91 L416.55,304.62 L417.05,305.39 L417.55,304.90 L418.05,304.85 L418.55,304.64 L419.05,305.00 L419.55,304.78 L420.05,304.79 L420.55,304.43 L421.05,304.49 L421.55,303.94 L422.05,304.51 L422.55,303.80 L423.05,304.04 L423.55,303.48 L424.05,303.60 L424.55,303.72 L425.05,304.19 L425.55,304.53 L426.05,304.05 L426.55,304.16 L427.05,303.08 L427.55,303.66 L428.05,302.59 L428.55,303.70 L429.05,302.88 L429.55,302.12 L430.05,302.05 L430.55,300.07 L431.05,300.04 L431.55,298.92 L432.05,295.71 L432.55,294.30 L433.05,290.92 L433.55,276.44 L434.05,264.30 L434.55,254.15 L435.05,246.50 L435.55,241.52 L436.05,235.51 L436.55,231.72 L437.05,225.78 L437.55,220.31 L438.05,213.07 L438.55,213.92 L439.05,210.63 L439.55,211.03 L440.05,209.97 L440.55,205.18 L441.05,206.22 L441.55,204.64 L442.05,209.98 L442.55,211.07 L443.05,214.00 L443.55,214.62 L444.05,218.09 L444.55,226.63 L445.05,229.28 L445.55,231.55 L446.05,236.20 L446.55,236.01 L447.05,243.88 L447.55,248.31 L448.05,249.91 L448.55,256.56 L449.05,257.44 L449.55,265.68 L450.05,268.60 L450.55,271.20 L451.05,276.73 L451.55,279.75 L452.05,284.31 L452.55,284.65 L453.05,289.10 L453.55,290.19 L454.05,293.05 L454.55,294.59 L455.05,296.03 L455.55,296.24 L456.05,297.49 L456.55,298.87 L457.05,301.60 L457.55,300.96 L458.05,303.17 L458.55,302.29 L459.05,302.15 L459.55,302.49 L460.05,303.33 L460.55,303.65 L461.05,304.18 L461.55,303.15 L462.05,303.29 L462.55,304.75 L463.05,305.01 L463.55,304.63 L464.05,305.47 L464.55,304.60 L465.05,305.84 L465.55,304.71 L466.05,305.97 L466.55,305.59 L467.05,305.53 L467.55,305.62 L468.05,305.68 L468.55,305.37 L469.05,305.99 L469.55,305.95 L470.05,305.90 L470.55,306.38 L471.05,306.15 L471.55,306.58 L472.05,306.27 L472.55,306.36 L473.05,306.38 L473.55,306.52 L474.05,306.28 L474.55,306.36 L475.05,306.34 L475.55,306.64 L476.05,306.42 L476.55,306.70 L477.05,306.59 L477.55,306.67 L478.05,306.60 L478.55,306.78 L479.05,306.80 L479.55,306.71 L480.05,306.70 L480.55,306.77 L481.05,306.80 L481.55,306.80 L482.05,306.80 L482.55,306.80 L483.05,306.80 L483.55,306.80 L484.05,306.80 L484.55,306.80 L485.05,306.80 L485.55,306.80 L486.05,306.80 L486.55,306.80 L487.05,306.80 L487.55,306.80 L488.05,306.80 L488.55,306.80 L489.05,306.80 L489.55,306.80 L490.05,306.80 L490.55,306.80 L491.05,306.80 L491.55,306.80 L492.05,306.80 L492.55,306.80 L493.05,306.80 L493.55,306.80 L494.05,306.80 L494.55,306.80 L495.05,306.80 L495.55,306.80 L496.05,306.80 L496.55,306.80 L497.05,306.80 L497.55,306.80 L498.05,306.80 L498.55,306.80 L499.05,306.80 L499.55,306.80 L500.05,306.80 L500.55,306.80 L501.05,306.80 L501.55,306.80 L502.05,306.80 L502.55,306.80 L503.05,306.80 L503.55,306.80 L504.05,306.80 L504.55,306.80 L505.05,306.80 L505.55,306.80 L506.05,306.80 L506.55,306.80 L507.05,306.80 L507.55,306.80 L508.05,306.80 L508.55,306.80 L509.05,306.80 L509.55,306.80 L510.05,306.80 L510.55,306.80 L511.05,306.80 L511.55,306.80 L512.05,306.80 L512.55,306.80 L513.05,306.80 L513.55,306.80 L514.05,306.80 L514.55,306.80" fill="none" stroke="#cc2a2a" stroke-width="1.0" opacity="1" stroke-linejoin="miter"/>
<path d="M401.55,306.80 L402.05,306.80 L402.55,306.71 L403.05,306.27 L403.55,306.35 L404.05,305.92 L404.55,305.66 L405.05,305.72 L405.55,306.02 L406.05,305.61 L406.55,305.79 L407.05,305.65 L407.55,305.45 L408.05,305.50 L408.55,305.74 L409.05,305.62 L409.55,305.00 L410.05,305.89 L410.55,305.48 L411.05,305.03 L411.55,305.62 L412.05,305.73 L412.55,305.08 L413.05,304.64 L413.55,305.26 L414.05,305.35 L414.55,305.32 L415.05,305.15 L415.55,305.26 L416.05,304.47 L416.55,304.84 L417.05,305.40 L417.55,305.81 L418.05,304.83 L418.55,305.80 L419.05,304.52 L419.55,304.60 L420.05,304.67 L420.55,304.67 L421.05,305.05 L421.55,304.63 L422.05,303.96 L422.55,305.01 L423.05,304.22 L423.55,303.95 L424.05,304.12 L424.55,303.47 L425.05,304.17 L425.55,303.76 L426.05,303.67 L426.55,303.87 L427.05,303.03 L427.55,302.84 L428.05,302.56 L428.55,302.88 L429.05,301.98 L429.55,301.95 L430.05,300.35 L430.55,298.40 L431.05,299.19 L431.55,295.52 L432.05,294.62 L432.55,286.99 L433.05,272.54 L433.55,259.66 L434.05,255.72 L434.55,251.57 L435.05,243.95 L435.55,237.21 L436.05,230.15 L436.55,225.72 L437.05,216.10 L437.55,215.22 L438.05,213.87 L438.55,210.56 L439.05,212.15 L439.55,203.86 L440.05,204.16 L440.55,204.21 L441.05,206.49 L441.55,208.69 L442.05,211.73 L442.55,214.47 L443.05,213.96 L443.55,218.90 L444.05,224.19 L444.55,227.54 L445.05,228.31 L445.55,232.40 L446.05,241.41 L446.55,242.90 L447.05,250.37 L447.55,249.61 L448.05,257.77 L448.55,261.53 L449.05,264.21 L449.55,268.37 L450.05,271.14 L450.55,275.54 L451.05,280.52 L451.55,281.09 L452.05,286.45 L452.55,288.27 L453.05,290.05 L453.55,295.22 L454.05,294.34 L454.55,295.40 L455.05,296.27 L455.55,299.11 L456.05,299.31 L456.55,300.76 L457.05,300.08 L457.55,301.36 L458.05,302.45 L458.55,301.88 L459.05,302.78 L459.55,302.64 L460.05,303.79 L460.55,304.32 L461.05,303.95 L461.55,303.86 L462.05,304.55 L462.55,305.07 L463.05,304.82 L463.55,304.86 L464.05,305.13 L464.55,305.62 L465.05,304.99 L465.55,305.55 L466.05,305.52 L466.55,305.51 L467.05,305.78 L467.55,306.06 L468.05,305.89 L468.55,306.22 L469.05,306.08 L469.55,306.11 L470.05,306.34 L470.55,306.36 L471.05,306.40 L471.55,306.39 L472.05,306.36 L472.55,306.38 L473.05,306.23 L473.55,306.45 L474.05,306.61 L474.55,306.32 L475.05,306.46 L475.55,306.58 L476.05,306.60 L476.55,306.71 L477.05,306.73 L477.55,306.55 L478.05,306.65 L478.55,306.64 L479.05,306.70 L479.55,306.73 L480.05,306.77 L480.55,306.80 L481.05,306.80 L481.55,306.80 L482.05,306.80 L482.55,306.80 L483.05,306.80 L483.55,306.80 L484.05,306.80 L484.55,306.80 L485.05,306.80 L485.55,306.80 L486.05,306.80 L486.55,306.80 L487.05,306.80 L487.55,306.80 L488.05,306.80 L488.55,306.80 L489.05,306.80 L489.55,306.80 L490.05,306.80 L490.55,306.80 L491.05,306.80 L491.55,306.80 L492.05,306.80 L492.55,306.80 L493.05,306.80 L493.55,306.80 L494.05,306.80 L494.55,306.80 L495.05,306.80 L495.55,306.80 L496.05,306.80 L496.55,306.80 L497.05,306.80 L497.55,306.80 L498.05,306.80 L498.55,306.80 L499.05,306.80 L499.55,306.80 L500.05,306.80 L500.55,306.80 L501.05,306.80 L501.55,306.80 L502.05,306.80 L502.55,306.80 L503.05,306.80 L503.55,306.80 L504.05,306.80 L504.55,306.80 L505.05,306.80 L505.55,306.80 L506.05,306.80 L506.55,306.80 L507.05,306.80 L507.55,306.80 L508.05,306.80 L508.55,306.80 L509.05,306.80 L509.55,306.80 L510.05,306.80 L510.55,306.80 L511.05,306.80 L511.55,306.80 L512.05,306.80 L512.55,306.80 L513.05,306.80 L513.55,306.80 L514.05,306.80 L514.55,306.80" fill="none" stroke="#9a3c9a" stroke-width="1.0" opacity="1" stroke-linejoin="miter"/>
<path d="M401.55,306.80 L402.05,306.43 L402.55,306.29 L403.05,306.28 L403.55,306.23 L404.05,305.50 L404.55,305.69 L405.05,306.11 L405.55,305.77 L406.05,305.30 L406.55,305.97 L407.05,305.85 L407.55,305.50 L408.05,305.82 L408.55,305.41 L409.05,304.68 L409.55,305.04 L410.05,304.99 L410.55,305.50 L411.05,305.86 L411.55,305.58 L412.05,305.58 L412.55,305.55 L413.05,305.62 L413.55,305.20 L414.05,305.06 L414.55,305.16 L415.05,304.85 L415.55,304.59 L416.05,304.68 L416.55,304.70 L417.05,304.95 L417.55,305.00 L418.05,304.72 L418.55,304.76 L419.05,304.47 L419.55,304.28 L420.05,304.83 L420.55,304.61 L421.05,304.38 L421.55,304.51 L422.05,303.74 L422.55,304.78 L423.05,305.18 L423.55,304.14 L424.05,303.81 L424.55,304.31 L425.05,303.63 L425.55,302.84 L426.05,303.85 L426.55,303.37 L427.05,303.08 L427.55,302.11 L428.05,301.81 L428.55,302.64 L429.05,300.59 L429.55,300.12 L430.05,300.57 L430.55,295.83 L431.05,295.41 L431.55,293.73 L432.05,287.02 L432.55,270.13 L433.05,261.10 L433.55,253.66 L434.05,245.66 L434.55,238.05 L435.05,232.45 L435.55,228.49 L436.05,224.95 L436.55,218.08 L437.05,218.85 L437.55,214.96 L438.05,211.77 L438.55,205.62 L439.05,204.02 L439.55,203.82 L440.05,206.41 L440.55,210.93 L441.05,211.23 L441.55,214.09 L442.05,210.96 L442.55,219.65 L443.05,223.92 L443.55,226.86 L444.05,226.86 L444.55,226.62 L445.05,236.07 L445.55,240.35 L446.05,245.76 L446.55,252.72 L447.05,250.31 L447.55,257.08 L448.05,260.96 L448.55,262.99 L449.05,269.57 L449.55,271.12 L450.05,275.81 L450.55,281.19 L451.05,283.68 L451.55,287.50 L452.05,289.31 L452.55,291.43 L453.05,293.89 L453.55,293.91 L454.05,295.44 L454.55,295.77 L455.05,297.57 L455.55,297.96 L456.05,300.09 L456.55,301.83 L457.05,301.88 L457.55,301.97 L458.05,302.91 L458.55,302.97 L459.05,303.22 L459.55,303.89 L460.05,304.17 L460.55,303.89 L461.05,304.99 L461.55,304.65 L462.05,305.51 L462.55,304.92 L463.05,304.92 L463.55,304.68 L464.05,306.01 L464.55,305.25 L465.05,305.48 L465.55,305.46 L466.05,305.47 L466.55,305.38 L467.05,305.89 L467.55,305.86 L468.05,305.60 L468.55,306.39 L469.05,306.18 L469.55,306.33 L470.05,306.00 L470.55,306.19 L471.05,306.43 L471.55,306.49 L472.05,306.36 L472.55,306.65 L473.05,306.64 L473.55,306.39 L474.05,306.69 L474.55,306.50 L475.05,306.50 L475.55,306.71 L476.05,306.60 L476.55,306.62 L477.05,306.60 L477.55,306.64 L478.05,306.76 L478.55,306.78 L479.05,306.80 L479.55,306.80 L480.05,306.80 L480.55,306.80 L481.05,306.80 L481.55,306.80 L482.05,306.80 L482.55,306.80 L483.05,306.80 L483.55,306.80 L484.05,306.80 L484.55,306.80 L485.05,306.80 L485.55,306.80 L486.05,306.80 L486.55,306.80 L487.05,306.80 L487.55,306.80 L488.05,306.80 L488.55,306.80 L489.05,306.80 L489.55,306.80 L490.05,306.80 L490.55,306.80 L491.05,306.80 L491.55,306.80 L492.05,306.80 L492.55,306.80 L493.05,306.80 L493.55,306.80 L494.05,306.80 L494.55,306.80 L495.05,306.80 L495.55,306.80 L496.05,306.80 L496.55,306.80 L497.05,306.80 L497.55,306.80 L498.05,306.80 L498.55,306.80 L499.05,306.80 L499.55,306.80 L500.05,306.80 L500.55,306.80 L501.05,306.80 L501.55,306.80 L502.05,306.80 L502.55,306.80 L503.05,306.80 L503.55,306.80 L504.05,306.80 L504.55,306.80 L505.05,306.80 L505.55,306.80 L506.05,306.80 L506.55,306.80 L507.05,306.80 L507.55,306.80 L508.05,306.80 L508.55,306.80 L509.05,306.80 L509.55,306.80 L510.05,306.80 L510.55,306.80 L511.05,306.80 L511.55,306.80 L512.05,306.80 L512.55,306.80 L513.05,306.80 L513.55,306.80 L514.05,306.80 L514.55,306.80" fill="none" stroke="#3a4ab8" stroke-width="1.0" opacity="1" stroke-linejoin="miter"/>
</g>
<rect x="400.3" y="202.0" width="114.40000000000003" height="104.80000000000001" fill="none" stroke="#8a8a8a" stroke-width="0.7"/>
<text transform="translate(398.60,204.00) rotate(-90)" font-size="6.0" text-anchor="middle" fill="#222" class="nb" textLength="7.6" lengthAdjust="spacingAndGlyphs">600</text>
<text transform="translate(398.60,224.60) rotate(-90)" font-size="6.0" text-anchor="middle" fill="#222" class="nb" textLength="7.6" lengthAdjust="spacingAndGlyphs">480</text>
<text transform="translate(398.60,245.50) rotate(-90)" font-size="6.0" text-anchor="middle" fill="#222" class="nb" textLength="7.6" lengthAdjust="spacingAndGlyphs">360</text>
<text transform="translate(398.60,266.50) rotate(-90)" font-size="6.0" text-anchor="middle" fill="#222" class="nb" textLength="7.6" lengthAdjust="spacingAndGlyphs">240</text>
<text transform="translate(398.60,286.00) rotate(-90)" font-size="6.0" text-anchor="middle" fill="#222" class="nb" textLength="7.6" lengthAdjust="spacingAndGlyphs">120</text>
<text transform="translate(398.60,306.20) rotate(-90)" font-size="6.0" text-anchor="middle" fill="#222" class="nb" >0</text>
<text class="nb" x="396.20" y="313.0" font-size="5.2" fill="#222">10<tspan dy="-2.0" font-size="4.2">0</tspan></text>
<text class="nb" x="425.70" y="313.0" font-size="5.2" fill="#222">10<tspan dy="-2.0" font-size="4.2">1</tspan></text>
<text class="nb" x="453.50" y="313.0" font-size="5.2" fill="#222">10<tspan dy="-2.0" font-size="4.2">2</tspan></text>
<text class="nb" x="482.80" y="313.0" font-size="5.2" fill="#222">10<tspan dy="-2.0" font-size="4.2">3</tspan></text>
<text class="nb" x="510.40" y="313.0" font-size="5.2" fill="#222">10<tspan dy="-2.0" font-size="4.2">4</tspan></text>
<text transform="translate(267.90,254.80) rotate(-90)" font-size="8" text-anchor="middle" fill="#111" >Counts</text>
<line x1="292.20" y1="203.20" x2="292.20" y2="212.00" stroke="#9a9a9a" stroke-width="0.8" />
<line x1="304.20" y1="202.60" x2="304.20" y2="212.00" stroke="#9a9a9a" stroke-width="0.8" />
<line x1="414.30" y1="203.00" x2="414.30" y2="210.00" stroke="#9a9a9a" stroke-width="0.8" />
<line x1="426.60" y1="203.00" x2="426.60" y2="212.00" stroke="#9a9a9a" stroke-width="0.8" />
<line x1="277.80" y1="320.60" x2="508.00" y2="320.60" stroke="#222" stroke-width="1.1" />
<polygon points="506.5,317.7 513.8,320.6 506.5,323.5" fill="#000"/>
<text x="397.30" y="334.10" font-size="8.8" text-anchor="middle" fill="#111" >P-CrkL</text>
</svg>
</body></html>
